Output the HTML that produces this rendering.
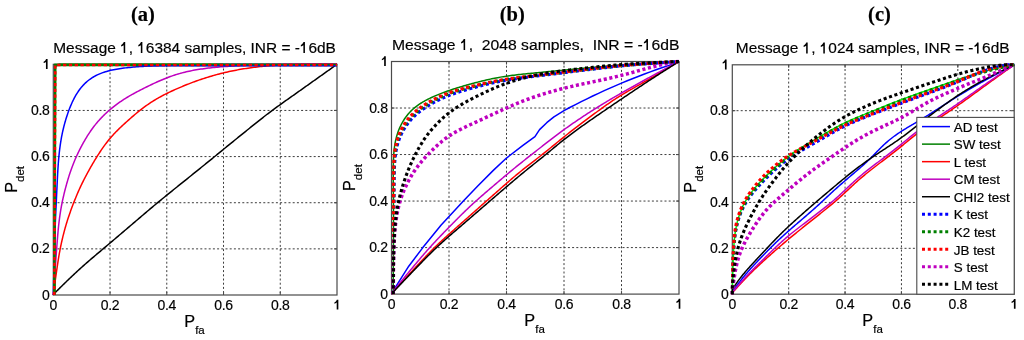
<!DOCTYPE html>
<html><head><meta charset="utf-8"><style>
html,body{margin:0;padding:0;background:#fff;}
body{width:1024px;height:340px;overflow:hidden;font-family:"Liberation Sans",sans-serif;}
svg{display:block;will-change:transform;}
text{stroke:#000;stroke-width:0.18px;}
.tk{font-size:14px;letter-spacing:-0.35px;}
.lg{font-size:13.4px;}
.h1{fill:transparent;stroke:none;}
</style></head><body>
<svg width="1024" height="340" viewBox="0 0 1024 340" font-family="Liberation Sans, sans-serif" font-size="13" fill="#000">
<defs><clipPath id="clipa"><rect x="51.30" y="62.30" width="287.70" height="234.70"/></clipPath><clipPath id="clipb"><rect x="389.50" y="59.50" width="291.50" height="236.60"/></clipPath><clipPath id="clipc"><rect x="730.30" y="62.80" width="285.90" height="233.40"/></clipPath></defs>
<line x1="110.04" y1="64.30" x2="110.04" y2="295.00" stroke="#3c3c3c" stroke-width="1" stroke-dasharray="2 2.2"/>
<line x1="53.30" y1="248.86" x2="337.00" y2="248.86" stroke="#3c3c3c" stroke-width="1" stroke-dasharray="2 2.2"/>
<line x1="166.78" y1="64.30" x2="166.78" y2="295.00" stroke="#3c3c3c" stroke-width="1" stroke-dasharray="2 2.2"/>
<line x1="53.30" y1="202.72" x2="337.00" y2="202.72" stroke="#3c3c3c" stroke-width="1" stroke-dasharray="2 2.2"/>
<line x1="223.52" y1="64.30" x2="223.52" y2="295.00" stroke="#3c3c3c" stroke-width="1" stroke-dasharray="2 2.2"/>
<line x1="53.30" y1="156.58" x2="337.00" y2="156.58" stroke="#3c3c3c" stroke-width="1" stroke-dasharray="2 2.2"/>
<line x1="280.26" y1="64.30" x2="280.26" y2="295.00" stroke="#3c3c3c" stroke-width="1" stroke-dasharray="2 2.2"/>
<line x1="53.30" y1="110.44" x2="337.00" y2="110.44" stroke="#3c3c3c" stroke-width="1" stroke-dasharray="2 2.2"/>
<rect x="53.30" y="64.30" width="283.70" height="230.70" fill="none" stroke="#4a4a4a" stroke-width="1.2"/>
<line x1="110.04" y1="295.00" x2="110.04" y2="292.00" stroke="#4a4a4a" stroke-width="1.1"/>
<line x1="110.04" y1="64.30" x2="110.04" y2="67.30" stroke="#4a4a4a" stroke-width="1.1"/>
<line x1="53.30" y1="248.86" x2="56.30" y2="248.86" stroke="#4a4a4a" stroke-width="1.1"/>
<line x1="337.00" y1="248.86" x2="334.00" y2="248.86" stroke="#4a4a4a" stroke-width="1.1"/>
<line x1="166.78" y1="295.00" x2="166.78" y2="292.00" stroke="#4a4a4a" stroke-width="1.1"/>
<line x1="166.78" y1="64.30" x2="166.78" y2="67.30" stroke="#4a4a4a" stroke-width="1.1"/>
<line x1="53.30" y1="202.72" x2="56.30" y2="202.72" stroke="#4a4a4a" stroke-width="1.1"/>
<line x1="337.00" y1="202.72" x2="334.00" y2="202.72" stroke="#4a4a4a" stroke-width="1.1"/>
<line x1="223.52" y1="295.00" x2="223.52" y2="292.00" stroke="#4a4a4a" stroke-width="1.1"/>
<line x1="223.52" y1="64.30" x2="223.52" y2="67.30" stroke="#4a4a4a" stroke-width="1.1"/>
<line x1="53.30" y1="156.58" x2="56.30" y2="156.58" stroke="#4a4a4a" stroke-width="1.1"/>
<line x1="337.00" y1="156.58" x2="334.00" y2="156.58" stroke="#4a4a4a" stroke-width="1.1"/>
<line x1="280.26" y1="295.00" x2="280.26" y2="292.00" stroke="#4a4a4a" stroke-width="1.1"/>
<line x1="280.26" y1="64.30" x2="280.26" y2="67.30" stroke="#4a4a4a" stroke-width="1.1"/>
<line x1="53.30" y1="110.44" x2="56.30" y2="110.44" stroke="#4a4a4a" stroke-width="1.1"/>
<line x1="337.00" y1="110.44" x2="334.00" y2="110.44" stroke="#4a4a4a" stroke-width="1.1"/>
<g clip-path="url(#clipa)"><polyline points="55.00,295.00 55.00,66.61 58.97,64.30 337.00,64.30" fill="none" stroke="#008000" stroke-width="1.5" stroke-linejoin="round"/>
<polyline points="53.30,295.00 53.34,293.32 53.38,291.64 53.42,289.96 53.46,288.28 53.50,286.60 53.54,284.92 53.58,283.24 53.62,281.56 53.66,279.88 53.70,278.20 53.74,276.52 53.79,274.84 53.83,273.16 53.87,271.48 53.91,269.80 53.95,268.12 53.99,266.45 54.04,264.77 54.08,263.09 54.12,261.41 54.16,259.74 54.21,258.06 54.25,256.38 54.30,254.71 54.34,253.03 54.39,251.36 54.43,249.68 54.48,248.01 54.53,246.34 54.58,244.67 54.63,243.00 54.68,241.33 54.73,239.66 54.78,237.99 54.84,236.32 54.89,234.66 54.95,233.00 55.01,231.34 55.07,229.68 55.13,228.02 55.20,226.36 55.26,224.71 55.33,223.05 55.40,221.40 55.47,219.75 55.54,218.10 55.61,216.45 55.69,214.81 55.76,213.16 55.84,211.52 55.92,209.88 55.99,208.23 56.07,206.59 56.15,204.95 56.23,203.31 56.31,201.66 56.38,200.02 56.46,198.38 56.54,196.73 56.61,195.09 56.69,193.44 56.76,191.80 56.84,190.16 56.92,188.51 56.99,186.87 57.07,185.22 57.15,183.58 57.23,181.94 57.30,180.30 57.39,178.66 57.47,177.02 57.56,175.39 57.64,173.76 57.74,172.13 57.83,170.50 57.93,168.88 58.04,167.27 58.15,165.66 58.26,164.05 58.38,162.45 58.51,160.86 58.64,159.27 58.78,157.69 58.93,156.12 59.09,154.55 59.25,153.00 59.43,151.45 59.61,149.91 59.80,148.38 60.00,146.86 60.20,145.35 60.42,143.85 60.65,142.35 60.89,140.87 61.14,139.40 61.39,137.94 61.66,136.48 61.94,135.04 62.23,133.61 62.53,132.19 62.84,130.78 63.17,129.39 63.50,128.00 63.84,126.62 64.19,125.25 64.56,123.89 64.93,122.55 65.31,121.21 65.70,119.88 66.10,118.56 66.51,117.25 66.93,115.95 67.36,114.65 67.80,113.37 68.25,112.10 68.70,110.84 69.17,109.58 69.65,108.34 70.14,107.11 70.64,105.89 71.15,104.68 71.68,103.49 72.21,102.30 72.76,101.13 73.32,99.97 73.90,98.83 74.49,97.70 75.10,96.59 75.72,95.49 76.36,94.41 77.02,93.35 77.69,92.30 78.38,91.27 79.09,90.26 79.82,89.27 80.57,88.30 81.34,87.35 82.13,86.42 82.94,85.51 83.78,84.62 84.63,83.75 85.51,82.91 86.41,82.09 87.33,81.29 88.28,80.52 89.25,79.77 90.24,79.04 91.26,78.34 92.30,77.66 93.37,77.01 94.46,76.38 95.58,75.77 96.72,75.20 97.88,74.64 99.07,74.11 100.29,73.60 101.52,73.12 102.78,72.66 104.07,72.22 105.37,71.81 106.70,71.41 108.05,71.04 109.41,70.69 110.80,70.35 112.20,70.04 113.63,69.74 115.07,69.46 116.52,69.19 117.99,68.94 119.47,68.70 120.97,68.48 122.48,68.27 124.00,68.07 125.53,67.88 127.07,67.70 128.63,67.53 130.19,67.38 131.76,67.23 133.34,67.09 134.93,66.95 136.52,66.83 138.12,66.71 139.73,66.60 141.35,66.49 142.96,66.39 144.59,66.29 146.22,66.20 147.85,66.11 149.49,66.03 151.13,65.95 152.77,65.87 154.42,65.80 156.07,65.73 157.72,65.66 159.38,65.60 161.04,65.54 162.70,65.48 164.36,65.43 166.03,65.37 167.70,65.32 169.38,65.28 171.06,65.24 172.74,65.19 174.42,65.16 176.10,65.12 177.79,65.09 179.48,65.05 181.17,65.02 182.86,65.00 184.55,64.97 186.25,64.94 187.94,64.92 189.64,64.90 191.34,64.87 193.04,64.85 194.74,64.83 196.44,64.81 198.14,64.79 199.84,64.77 201.55,64.76 203.25,64.74 204.95,64.72 206.66,64.71 208.36,64.69 210.06,64.67 211.77,64.66 213.48,64.64 215.18,64.63 216.89,64.62 218.60,64.60 220.31,64.59 222.01,64.58 223.72,64.57 225.43,64.56 227.14,64.55 228.86,64.54 230.57,64.53 232.28,64.52 233.99,64.52 235.71,64.51 237.42,64.50 239.14,64.50 240.85,64.49 242.57,64.49 244.28,64.48 246.00,64.48 247.71,64.47 249.43,64.47 251.15,64.47 252.86,64.46 254.58,64.46 256.30,64.46 258.01,64.45 259.73,64.45 261.45,64.45 263.17,64.44 264.88,64.44 266.60,64.44 268.32,64.43 270.04,64.43 271.75,64.43 273.47,64.43 275.19,64.42 276.90,64.42 278.62,64.42 280.34,64.41 282.06,64.41 283.77,64.41 285.49,64.40 287.21,64.40 288.93,64.40 290.64,64.39 292.36,64.39 294.08,64.39 295.79,64.38 297.51,64.38 299.23,64.38 300.94,64.37 302.66,64.37 304.38,64.37 306.10,64.36 307.81,64.36 309.53,64.36 311.25,64.35 312.96,64.35 314.68,64.35 316.40,64.34 318.11,64.34 319.83,64.34 321.55,64.33 323.27,64.33 324.98,64.32 326.70,64.32 328.42,64.32 330.13,64.31 331.85,64.31 333.57,64.31 335.28,64.30 337.00,64.30" fill="none" stroke="#0000ff" stroke-width="1.5" stroke-linejoin="round"/>
<polyline points="53.30,295.00 53.48,293.46 53.69,291.95 53.90,290.44 54.10,288.92 54.31,287.41 54.52,285.90 54.73,284.38 54.93,282.87 55.14,281.36 55.35,279.85 55.56,278.34 55.77,276.82 55.98,275.32 56.19,273.81 56.41,272.30 56.62,270.79 56.84,269.29 57.06,267.79 57.28,266.29 57.50,264.79 57.73,263.30 57.96,261.81 58.19,260.32 58.43,258.84 58.67,257.36 58.92,255.89 59.18,254.43 59.44,252.96 59.70,251.51 59.97,250.06 60.25,248.62 60.53,247.18 60.83,245.75 61.12,244.33 61.43,242.92 61.74,241.51 62.06,240.10 62.38,238.71 62.72,237.32 63.05,235.94 63.40,234.56 63.75,233.19 64.10,231.83 64.47,230.47 64.84,229.12 65.21,227.77 65.59,226.44 65.98,225.10 66.38,223.78 66.78,222.46 67.19,221.15 67.60,219.84 68.02,218.54 68.45,217.25 68.88,215.96 69.32,214.68 69.76,213.40 70.21,212.13 70.66,210.86 71.12,209.60 71.58,208.34 72.05,207.08 72.52,205.83 72.99,204.59 73.47,203.35 73.95,202.11 74.44,200.87 74.93,199.64 75.42,198.42 75.92,197.20 76.43,195.98 76.94,194.77 77.45,193.56 77.97,192.36 78.49,191.16 79.02,189.97 79.56,188.79 80.10,187.61 80.65,186.44 81.20,185.27 81.76,184.11 82.32,182.95 82.89,181.80 83.46,180.65 84.04,179.51 84.62,178.37 85.21,177.24 85.80,176.11 86.40,174.98 87.00,173.86 87.60,172.74 88.21,171.63 88.82,170.52 89.43,169.41 90.05,168.31 90.67,167.21 91.30,166.12 91.92,165.03 92.56,163.94 93.19,162.85 93.84,161.77 94.48,160.70 95.13,159.63 95.78,158.56 96.44,157.50 97.10,156.44 97.77,155.38 98.44,154.34 99.12,153.29 99.80,152.25 100.49,151.22 101.18,150.19 101.88,149.17 102.58,148.16 103.29,147.15 104.01,146.15 104.74,145.15 105.47,144.16 106.21,143.18 106.96,142.21 107.72,141.25 108.48,140.29 109.25,139.35 110.04,138.41 110.83,137.48 111.63,136.56 112.44,135.65 113.26,134.75 114.09,133.86 114.93,132.97 115.77,132.10 116.62,131.23 117.48,130.36 118.34,129.51 119.21,128.66 120.09,127.81 120.96,126.97 121.85,126.13 122.74,125.30 123.63,124.47 124.52,123.65 125.42,122.83 126.33,122.01 127.23,121.19 128.14,120.38 129.05,119.57 129.96,118.77 130.88,117.96 131.80,117.16 132.73,116.37 133.65,115.57 134.58,114.78 135.52,114.00 136.46,113.22 137.40,112.44 138.35,111.67 139.31,110.91 140.27,110.15 141.24,109.39 142.21,108.64 143.19,107.90 144.17,107.17 145.17,106.44 146.17,105.72 147.18,105.01 148.19,104.30 149.21,103.61 150.25,102.92 151.28,102.24 152.33,101.56 153.38,100.90 154.45,100.24 155.52,99.59 156.60,98.95 157.69,98.32 158.78,97.69 159.89,97.07 161.00,96.47 162.12,95.86 163.24,95.27 164.38,94.68 165.52,94.10 166.67,93.53 167.82,92.97 168.98,92.41 170.15,91.85 171.32,91.30 172.49,90.76 173.67,90.22 174.86,89.68 176.05,89.15 177.25,88.63 178.44,88.11 179.65,87.59 180.85,87.08 182.07,86.57 183.28,86.06 184.50,85.56 185.72,85.06 186.95,84.57 188.18,84.08 189.42,83.60 190.66,83.12 191.90,82.64 193.15,82.17 194.41,81.71 195.67,81.25 196.94,80.80 198.21,80.35 199.49,79.91 200.77,79.47 202.06,79.04 203.36,78.61 204.66,78.19 205.96,77.78 207.27,77.37 208.59,76.96 209.91,76.56 211.24,76.17 212.57,75.78 213.91,75.40 215.25,75.02 216.60,74.65 217.95,74.28 219.32,73.93 220.68,73.57 222.06,73.23 223.44,72.89 224.83,72.56 226.22,72.23 227.62,71.91 229.03,71.60 230.45,71.30 231.87,71.00 233.30,70.71 234.74,70.42 236.18,70.14 237.63,69.87 239.08,69.61 240.55,69.35 242.02,69.10 243.49,68.86 244.98,68.62 246.47,68.39 247.96,68.17 249.47,67.95 250.98,67.74 252.50,67.54 254.02,67.34 255.55,67.15 257.09,66.97 258.63,66.79 260.18,66.62 261.74,66.45 263.30,66.30 264.87,66.14 266.44,66.00 268.02,65.86 269.61,65.72 271.20,65.60 272.80,65.48 274.41,65.36 276.02,65.25 277.64,65.15 279.26,65.06 280.89,64.97 282.53,64.88 284.17,64.80 285.82,64.73 287.48,64.67 289.14,64.61 290.80,64.55 292.47,64.50 294.15,64.46 295.83,64.42 297.51,64.38 299.20,64.35 300.90,64.33 302.60,64.30 304.30,64.30 306.00,64.30 307.71,64.30 309.42,64.30 311.13,64.30 312.85,64.30 314.56,64.30 316.28,64.30 318.00,64.30 319.72,64.30 321.44,64.30 323.16,64.30 324.88,64.30 326.61,64.30 328.33,64.30 330.05,64.30 331.78,64.30 333.50,64.30 335.22,64.30 337.00,64.30" fill="none" stroke="#ff0000" stroke-width="1.5" stroke-linejoin="round"/>
<polyline points="53.30,295.00 53.43,293.41 53.54,291.80 53.66,290.20 53.78,288.60 53.90,286.99 54.01,285.39 54.13,283.79 54.25,282.18 54.36,280.58 54.48,278.98 54.60,277.37 54.71,275.77 54.83,274.16 54.95,272.56 55.06,270.96 55.18,269.35 55.29,267.75 55.41,266.14 55.53,264.54 55.64,262.93 55.76,261.33 55.87,259.72 55.99,258.12 56.10,256.51 56.22,254.91 56.33,253.30 56.45,251.70 56.57,250.10 56.69,248.49 56.80,246.89 56.92,245.29 57.05,243.69 57.17,242.10 57.29,240.50 57.42,238.91 57.55,237.32 57.68,235.73 57.82,234.14 57.96,232.56 58.10,230.99 58.25,229.42 58.41,227.85 58.57,226.29 58.73,224.74 58.91,223.19 59.09,221.65 59.28,220.12 59.47,218.59 59.67,217.07 59.89,215.57 60.10,214.06 60.33,212.57 60.57,211.09 60.81,209.61 61.07,208.15 61.33,206.69 61.60,205.24 61.88,203.80 62.17,202.36 62.46,200.94 62.76,199.52 63.07,198.11 63.39,196.71 63.72,195.31 64.05,193.92 64.38,192.54 64.73,191.16 65.08,189.79 65.43,188.42 65.79,187.07 66.16,185.71 66.53,184.36 66.91,183.02 67.29,181.69 67.68,180.35 68.08,179.03 68.48,177.71 68.89,176.40 69.31,175.09 69.73,173.80 70.16,172.51 70.60,171.22 71.04,169.95 71.49,168.68 71.95,167.42 72.42,166.17 72.90,164.92 73.38,163.69 73.88,162.46 74.38,161.24 74.88,160.03 75.40,158.82 75.92,157.63 76.46,156.44 76.99,155.26 77.54,154.08 78.09,152.91 78.65,151.75 79.22,150.60 79.80,149.46 80.38,148.32 80.96,147.18 81.56,146.06 82.16,144.94 82.77,143.83 83.38,142.72 84.01,141.62 84.63,140.53 85.27,139.45 85.91,138.37 86.56,137.30 87.22,136.23 87.88,135.18 88.56,134.13 89.24,133.09 89.92,132.06 90.62,131.03 91.33,130.02 92.04,129.02 92.77,128.02 93.50,127.03 94.25,126.06 95.00,125.10 95.77,124.14 96.55,123.20 97.33,122.26 98.13,121.34 98.94,120.43 99.76,119.52 100.58,118.63 101.42,117.75 102.26,116.87 103.12,116.01 103.98,115.15 104.86,114.30 105.74,113.46 106.63,112.63 107.53,111.81 108.44,111.00 109.36,110.20 110.28,109.41 111.22,108.62 112.16,107.85 113.12,107.08 114.08,106.32 115.05,105.58 116.03,104.83 117.02,104.10 118.02,103.38 119.03,102.67 120.04,101.96 121.06,101.26 122.09,100.57 123.13,99.89 124.18,99.22 125.23,98.55 126.29,97.89 127.36,97.24 128.44,96.60 129.53,95.96 130.62,95.33 131.72,94.71 132.82,94.10 133.93,93.48 135.04,92.88 136.16,92.28 137.29,91.68 138.42,91.09 139.55,90.50 140.68,89.91 141.82,89.33 142.96,88.75 144.11,88.18 145.25,87.60 146.40,87.03 147.56,86.47 148.71,85.90 149.87,85.34 151.04,84.78 152.20,84.23 153.37,83.68 154.54,83.13 155.72,82.59 156.91,82.05 158.09,81.52 159.29,80.99 160.48,80.47 161.69,79.95 162.90,79.44 164.12,78.94 165.34,78.45 166.58,77.96 167.82,77.48 169.07,77.01 170.33,76.55 171.60,76.10 172.88,75.66 174.17,75.23 175.47,74.81 176.78,74.40 178.10,74.00 179.44,73.62 180.78,73.24 182.13,72.87 183.50,72.52 184.88,72.17 186.26,71.84 187.66,71.52 189.07,71.21 190.49,70.91 191.92,70.62 193.37,70.34 194.82,70.07 196.28,69.82 197.76,69.57 199.24,69.33 200.73,69.11 202.24,68.89 203.75,68.68 205.27,68.48 206.80,68.29 208.33,68.10 209.88,67.93 211.43,67.76 212.98,67.59 214.55,67.44 216.12,67.29 217.69,67.14 219.27,67.00 220.86,66.87 222.45,66.74 224.05,66.61 225.65,66.49 227.25,66.38 228.86,66.27 230.48,66.16 232.10,66.06 233.72,65.96 235.35,65.87 236.97,65.78 238.61,65.69 240.24,65.61 241.88,65.53 243.53,65.45 245.17,65.37 246.82,65.30 248.47,65.23 250.13,65.17 251.79,65.11 253.45,65.05 255.11,64.99 256.77,64.93 258.44,64.88 260.11,64.83 261.78,64.78 263.46,64.74 265.14,64.69 266.81,64.65 268.50,64.61 270.18,64.58 271.87,64.54 273.55,64.51 275.24,64.48 276.94,64.45 278.63,64.43 280.33,64.40 282.03,64.38 283.73,64.36 285.44,64.35 287.14,64.33 288.85,64.32 290.56,64.31 292.27,64.30 293.98,64.30 295.70,64.30 297.41,64.30 299.13,64.30 300.85,64.30 302.56,64.30 304.28,64.30 306.00,64.30 307.72,64.30 309.44,64.30 311.16,64.30 312.89,64.30 314.61,64.30 316.33,64.30 318.05,64.30 319.77,64.30 321.50,64.30 323.22,64.30 324.94,64.30 326.66,64.30 328.39,64.30 330.11,64.30 331.83,64.30 333.55,64.30 335.28,64.30 337.00,64.30" fill="none" stroke="#bf00bf" stroke-width="1.5" stroke-linejoin="round"/>
<polyline points="53.30,295.00 53.89,293.87 54.75,293.01 55.62,292.15 56.48,291.30 57.34,290.44 58.21,289.59 59.08,288.73 59.94,287.88 60.81,287.03 61.68,286.17 62.55,285.32 63.42,284.47 64.29,283.62 65.16,282.78 66.03,281.93 66.91,281.08 67.79,280.24 68.66,279.40 69.54,278.56 70.42,277.72 71.31,276.88 72.19,276.04 73.07,275.21 73.96,274.37 74.85,273.54 75.74,272.71 76.63,271.88 77.53,271.06 78.42,270.23 79.32,269.41 80.22,268.59 81.13,267.77 82.03,266.96 82.94,266.15 83.85,265.34 84.76,264.53 85.68,263.72 86.60,262.92 87.51,262.12 88.44,261.32 89.36,260.52 90.28,259.73 91.21,258.93 92.14,258.14 93.07,257.35 94.00,256.56 94.93,255.77 95.86,254.98 96.79,254.19 97.73,253.41 98.66,252.62 99.59,251.83 100.53,251.05 101.46,250.26 102.40,249.47 103.33,248.69 104.26,247.90 105.20,247.12 106.13,246.33 107.07,245.54 108.00,244.75 108.93,243.97 109.86,243.18 110.80,242.39 111.73,241.60 112.66,240.81 113.59,240.02 114.52,239.24 115.45,238.45 116.38,237.66 117.31,236.87 118.24,236.08 119.17,235.29 120.10,234.49 121.03,233.70 121.96,232.91 122.89,232.12 123.82,231.33 124.75,230.54 125.68,229.75 126.61,228.95 127.54,228.16 128.46,227.37 129.39,226.58 130.32,225.79 131.25,224.99 132.18,224.20 133.11,223.41 134.03,222.62 134.96,221.83 135.89,221.03 136.82,220.24 137.75,219.45 138.68,218.66 139.60,217.87 140.53,217.07 141.46,216.28 142.39,215.49 143.32,214.70 144.25,213.91 145.18,213.12 146.11,212.33 147.04,211.54 147.97,210.75 148.91,209.96 149.84,209.18 150.77,208.39 151.71,207.60 152.64,206.82 153.58,206.04 154.52,205.25 155.46,204.47 156.40,203.69 157.34,202.91 158.28,202.13 159.22,201.35 160.16,200.58 161.11,199.80 162.05,199.03 163.00,198.25 163.95,197.48 164.90,196.71 165.84,195.93 166.79,195.16 167.74,194.39 168.69,193.62 169.65,192.86 170.60,192.09 171.55,191.32 172.50,190.55 173.46,189.78 174.41,189.02 175.36,188.25 176.32,187.48 177.27,186.72 178.22,185.95 179.18,185.18 180.13,184.42 181.09,183.65 182.04,182.88 182.99,182.12 183.95,181.35 184.90,180.58 185.86,179.82 186.81,179.05 187.76,178.29 188.72,177.52 189.67,176.75 190.63,175.99 191.58,175.22 192.53,174.45 193.49,173.69 194.44,172.92 195.39,172.15 196.35,171.38 197.30,170.62 198.25,169.85 199.20,169.08 200.16,168.31 201.11,167.54 202.06,166.78 203.01,166.01 203.96,165.24 204.91,164.47 205.86,163.70 206.82,162.93 207.76,162.16 208.71,161.39 209.66,160.62 210.61,159.84 211.56,159.07 212.51,158.30 213.46,157.53 214.40,156.75 215.35,155.98 216.30,155.21 217.24,154.43 218.19,153.66 219.14,152.88 220.08,152.11 221.03,151.33 221.97,150.56 222.92,149.79 223.87,149.01 224.81,148.24 225.76,147.47 226.71,146.70 227.66,145.92 228.61,145.15 229.56,144.38 230.51,143.61 231.46,142.84 232.41,142.07 233.36,141.30 234.31,140.53 235.26,139.76 236.21,138.99 237.16,138.22 238.11,137.45 239.06,136.68 240.01,135.91 240.97,135.15 241.92,134.38 242.87,133.61 243.82,132.84 244.77,132.07 245.73,131.30 246.68,130.53 247.63,129.77 248.58,129.00 249.53,128.23 250.49,127.46 251.44,126.69 252.39,125.93 253.35,125.16 254.30,124.39 255.26,123.63 256.21,122.86 257.17,122.10 258.12,121.34 259.08,120.57 260.04,119.81 261.00,119.05 261.97,118.30 262.93,117.54 263.89,116.78 264.86,116.03 265.83,115.28 266.80,114.53 267.78,113.78 268.75,113.04 269.73,112.30 270.71,111.56 271.70,110.82 272.69,110.09 273.67,109.36 274.67,108.63 275.66,107.90 276.66,107.18 277.65,106.46 278.65,105.74 279.66,105.02 280.66,104.30 281.66,103.58 282.67,102.87 283.67,102.15 284.68,101.44 285.69,100.73 286.69,100.01 287.70,99.30 288.71,98.59 289.72,97.88 290.73,97.16 291.73,96.45 292.74,95.74 293.75,95.03 294.76,94.31 295.77,93.60 296.77,92.89 297.78,92.18 298.79,91.46 299.80,90.75 300.80,90.04 301.81,89.32 302.82,88.61 303.82,87.90 304.83,87.18 305.84,86.47 306.84,85.75 307.85,85.04 308.85,84.33 309.86,83.61 310.87,82.90 311.87,82.18 312.88,81.47 313.88,80.75 314.89,80.04 315.89,79.32 316.90,78.61 317.90,77.89 318.91,77.18 319.91,76.46 320.92,75.75 321.92,75.03 322.93,74.32 323.93,73.60 324.94,72.88 325.94,72.17 326.95,71.45 327.95,70.74 328.96,70.02 329.96,69.31 330.97,68.59 331.97,67.88 332.98,67.16 333.98,66.45 334.99,65.73 335.99,65.02 337.00,64.30" fill="none" stroke="#000000" stroke-width="1.5" stroke-linejoin="round"/>
<polyline points="54.29,295.00 55.29,64.99 337.00,64.99" fill="none" stroke="#008000" stroke-width="2.5"/>
<polyline points="138.41,65.91 337.00,65.91" fill="none" stroke="#0000ff" stroke-width="1.2"/>
<polyline points="54.43,64.30 223.52,64.30" fill="none" stroke="#008000" stroke-width="1.2"/>
<polyline points="54.29,295.00 55.29,64.99 337.00,64.99" fill="none" stroke="#ff0000" stroke-width="2.5" stroke-dasharray="3.3 2.5"/></g>
<text x="53.30" y="309.60" text-anchor="middle" class="tk">0</text>
<text x="49.40" y="299.60" text-anchor="end" class="tk">0</text>
<text x="110.04" y="309.60" text-anchor="middle" class="tk">0.2</text>
<text x="49.40" y="253.46" text-anchor="end" class="tk">0.2</text>
<text x="166.78" y="309.60" text-anchor="middle" class="tk">0.4</text>
<text x="49.40" y="207.32" text-anchor="end" class="tk">0.4</text>
<text x="223.52" y="309.60" text-anchor="middle" class="tk">0.6</text>
<text x="49.40" y="161.18" text-anchor="end" class="tk">0.6</text>
<text x="280.26" y="309.60" text-anchor="middle" class="tk">0.8</text>
<text x="49.40" y="115.04" text-anchor="end" class="tk">0.8</text>
<path d="M336.70,299.70 L338.35,299.70 L338.35,309.60 L336.70,309.60 L336.70,302.60 C336.00,303.20 335.20,303.60 334.40,303.80 L334.40,302.40 C335.50,302.00 336.30,301.00 336.80,299.70 Z" fill="#000"/>
<path d="M45.95,59.00 L47.60,59.00 L47.60,68.90 L45.95,68.90 L45.95,61.90 C45.25,62.50 44.45,62.90 43.65,63.10 L43.65,61.70 C44.75,61.30 45.55,60.30 46.05,59.00 Z" fill="#000"/>
<text x="184.25" y="326.80" font-size="16.3">P<tspan font-size="11.5" dy="7">fa</tspan></text>
<text transform="translate(17.00,192.85) rotate(-90)" font-size="16.3">P<tspan font-size="11.5" dy="7">det</tspan></text>
<text id="titlea" x="53.20" y="52.90" font-size="15.4" textLength="282.70" lengthAdjust="spacingAndGlyphs" xml:space="preserve">Message <tspan class="h1">1</tspan>, <tspan class="h1">1</tspan>6384 samples, INR = -<tspan class="h1">1</tspan>6dB</text>
<path d="M123.67,42.01 L125.21,42.01 L125.21,52.90 L123.67,52.90 L123.67,45.20 C122.90,45.86 122.02,46.30 121.14,46.52 L121.14,44.98 C122.35,44.54 123.23,43.44 123.77,42.01 Z" fill="#000"/>
<path d="M140.84,42.01 L142.38,42.01 L142.38,52.90 L140.84,52.90 L140.84,45.20 C140.07,45.86 139.19,46.30 138.31,46.52 L138.31,44.98 C139.52,44.54 140.40,43.44 140.94,42.01 Z" fill="#000"/>
<path d="M303.39,42.01 L304.93,42.01 L304.93,52.90 L303.39,52.90 L303.39,45.20 C302.62,45.86 301.74,46.30 300.86,46.52 L300.86,44.98 C302.07,44.54 302.95,43.44 303.49,42.01 Z" fill="#000"/>
<text x="131.00" y="20.90" font-family="Liberation Serif, serif" font-weight="bold" font-size="20.5">(a)</text>
<line x1="449.00" y1="61.50" x2="449.00" y2="294.10" stroke="#3c3c3c" stroke-width="1" stroke-dasharray="2 2.2"/>
<line x1="391.50" y1="247.58" x2="679.00" y2="247.58" stroke="#3c3c3c" stroke-width="1" stroke-dasharray="2 2.2"/>
<line x1="506.50" y1="61.50" x2="506.50" y2="294.10" stroke="#3c3c3c" stroke-width="1" stroke-dasharray="2 2.2"/>
<line x1="391.50" y1="201.06" x2="679.00" y2="201.06" stroke="#3c3c3c" stroke-width="1" stroke-dasharray="2 2.2"/>
<line x1="564.00" y1="61.50" x2="564.00" y2="294.10" stroke="#3c3c3c" stroke-width="1" stroke-dasharray="2 2.2"/>
<line x1="391.50" y1="154.54" x2="679.00" y2="154.54" stroke="#3c3c3c" stroke-width="1" stroke-dasharray="2 2.2"/>
<line x1="621.50" y1="61.50" x2="621.50" y2="294.10" stroke="#3c3c3c" stroke-width="1" stroke-dasharray="2 2.2"/>
<line x1="391.50" y1="108.02" x2="679.00" y2="108.02" stroke="#3c3c3c" stroke-width="1" stroke-dasharray="2 2.2"/>
<rect x="391.50" y="61.50" width="287.50" height="232.60" fill="none" stroke="#4a4a4a" stroke-width="1.2"/>
<line x1="449.00" y1="294.10" x2="449.00" y2="291.10" stroke="#4a4a4a" stroke-width="1.1"/>
<line x1="449.00" y1="61.50" x2="449.00" y2="64.50" stroke="#4a4a4a" stroke-width="1.1"/>
<line x1="391.50" y1="247.58" x2="394.50" y2="247.58" stroke="#4a4a4a" stroke-width="1.1"/>
<line x1="679.00" y1="247.58" x2="676.00" y2="247.58" stroke="#4a4a4a" stroke-width="1.1"/>
<line x1="506.50" y1="294.10" x2="506.50" y2="291.10" stroke="#4a4a4a" stroke-width="1.1"/>
<line x1="506.50" y1="61.50" x2="506.50" y2="64.50" stroke="#4a4a4a" stroke-width="1.1"/>
<line x1="391.50" y1="201.06" x2="394.50" y2="201.06" stroke="#4a4a4a" stroke-width="1.1"/>
<line x1="679.00" y1="201.06" x2="676.00" y2="201.06" stroke="#4a4a4a" stroke-width="1.1"/>
<line x1="564.00" y1="294.10" x2="564.00" y2="291.10" stroke="#4a4a4a" stroke-width="1.1"/>
<line x1="564.00" y1="61.50" x2="564.00" y2="64.50" stroke="#4a4a4a" stroke-width="1.1"/>
<line x1="391.50" y1="154.54" x2="394.50" y2="154.54" stroke="#4a4a4a" stroke-width="1.1"/>
<line x1="679.00" y1="154.54" x2="676.00" y2="154.54" stroke="#4a4a4a" stroke-width="1.1"/>
<line x1="621.50" y1="294.10" x2="621.50" y2="291.10" stroke="#4a4a4a" stroke-width="1.1"/>
<line x1="621.50" y1="61.50" x2="621.50" y2="64.50" stroke="#4a4a4a" stroke-width="1.1"/>
<line x1="391.50" y1="108.02" x2="394.50" y2="108.02" stroke="#4a4a4a" stroke-width="1.1"/>
<line x1="679.00" y1="108.02" x2="676.00" y2="108.02" stroke="#4a4a4a" stroke-width="1.1"/>
<g clip-path="url(#clipb)"><polyline points="391.50,294.10 393.23,290.84 397.25,284.33 408.75,266.19 422.84,247.58 440.95,225.25 463.38,201.06 477.75,185.94 493.56,170.12 506.50,158.03 522.60,145.70 534.96,136.63 539.56,129.65 546.75,122.67 553.94,116.86 564.00,110.58 569.75,107.53 575.50,104.58 581.25,101.67 587.00,98.81 592.75,96.04 598.50,93.32 604.25,90.69 610.00,88.11 615.75,85.57 621.50,83.13 627.25,80.74 633.00,78.43 638.75,76.18 644.50,73.97 650.25,71.85 656.00,69.78 661.75,67.80 667.50,65.87 673.25,63.99 679.00,61.50" fill="none" stroke="#0000ff" stroke-width="1.5" stroke-linejoin="round"/>
<polyline points="393.23,294.10 393.23,292.37 393.24,290.64 393.24,288.92 393.25,287.19 393.26,285.47 393.27,283.74 393.28,282.01 393.28,280.29 393.29,278.56 393.30,276.84 393.31,275.11 393.31,273.38 393.32,271.66 393.33,269.93 393.34,268.21 393.34,266.48 393.35,264.75 393.36,263.03 393.37,261.30 393.38,259.58 393.38,257.85 393.39,256.12 393.40,254.40 393.41,252.67 393.41,250.95 393.42,249.22 393.43,247.49 393.44,245.77 393.44,244.04 393.45,242.31 393.46,240.59 393.46,238.86 393.47,237.13 393.48,235.41 393.48,233.68 393.49,231.95 393.49,230.22 393.49,228.49 393.50,226.76 393.50,225.03 393.50,223.30 393.50,221.56 393.50,219.83 393.50,218.09 393.50,216.36 393.50,214.62 393.49,212.89 393.49,211.15 393.48,209.41 393.48,207.67 393.47,205.92 393.46,204.18 393.45,202.44 393.44,200.69 393.43,198.95 393.41,197.20 393.40,195.45 393.38,193.70 393.37,191.95 393.35,190.20 393.34,188.45 393.32,186.70 393.30,184.95 393.29,183.21 393.27,181.46 393.26,179.71 393.25,177.97 393.24,176.22 393.23,174.48 393.23,172.75 393.24,171.02 393.25,169.29 393.26,167.58 393.28,165.87 393.32,164.16 393.36,162.47 393.41,160.79 393.48,159.12 393.55,157.47 393.65,155.83 393.76,154.20 393.88,152.59 394.03,151.01 394.19,149.44 394.38,147.89 394.58,146.36 394.81,144.85 395.06,143.37 395.33,141.91 395.63,140.47 395.95,139.06 396.30,137.67 396.67,136.31 397.06,134.97 397.47,133.65 397.91,132.35 398.37,131.08 398.85,129.83 399.36,128.60 399.88,127.39 400.43,126.20 401.00,125.03 401.58,123.89 402.19,122.76 402.82,121.66 403.47,120.57 404.14,119.51 404.83,118.47 405.54,117.44 406.27,116.44 407.03,115.46 407.80,114.50 408.60,113.56 409.41,112.65 410.25,111.75 411.11,110.88 412.00,110.03 412.90,109.20 413.82,108.39 414.76,107.60 415.73,106.83 416.71,106.08 417.71,105.34 418.73,104.63 419.77,103.93 420.82,103.25 421.89,102.59 422.98,101.94 424.08,101.31 425.19,100.69 426.32,100.08 427.46,99.48 428.61,98.90 429.77,98.33 430.94,97.77 432.13,97.22 433.32,96.68 434.52,96.15 435.73,95.62 436.95,95.11 438.18,94.61 439.42,94.11 440.66,93.62 441.91,93.13 443.17,92.66 444.43,92.19 445.70,91.72 446.98,91.27 448.26,90.82 449.55,90.37 450.85,89.94 452.15,89.50 453.46,89.08 454.77,88.66 456.09,88.24 457.41,87.83 458.74,87.42 460.07,87.02 461.41,86.62 462.75,86.23 464.09,85.84 465.44,85.45 466.79,85.07 468.14,84.69 469.50,84.31 470.86,83.94 472.22,83.57 473.59,83.21 474.96,82.84 476.34,82.48 477.71,82.13 479.09,81.77 480.48,81.42 481.87,81.08 483.26,80.74 484.66,80.40 486.06,80.07 487.47,79.75 488.88,79.43 490.31,79.12 491.73,78.81 493.17,78.51 494.61,78.22 496.06,77.93 497.52,77.66 498.98,77.39 500.46,77.13 501.94,76.88 503.43,76.64 504.93,76.41 506.44,76.18 507.96,75.96 509.48,75.75 511.01,75.55 512.55,75.35 514.09,75.16 515.64,74.97 517.19,74.79 518.75,74.62 520.31,74.44 521.87,74.27 523.44,74.11 525.01,73.94 526.58,73.78 528.15,73.62 529.73,73.46 531.30,73.30 532.88,73.15 534.46,72.99 536.04,72.84 537.62,72.69 539.20,72.53 540.78,72.38 542.36,72.23 543.94,72.07 545.52,71.92 547.10,71.77 548.69,71.62 550.27,71.46 551.85,71.31 553.43,71.16 555.01,71.00 556.59,70.85 558.17,70.70 559.75,70.54 561.33,70.39 562.91,70.24 564.49,70.09 566.08,69.93 567.66,69.78 569.24,69.63 570.82,69.48 572.40,69.33 573.99,69.18 575.57,69.02 577.15,68.87 578.73,68.72 580.32,68.57 581.90,68.42 583.48,68.27 585.07,68.12 586.65,67.97 588.24,67.82 589.82,67.67 591.41,67.52 592.99,67.38 594.58,67.23 596.16,67.08 597.75,66.93 599.34,66.79 600.92,66.64 602.51,66.50 604.10,66.35 605.69,66.21 607.29,66.07 608.88,65.93 610.47,65.79 612.07,65.65 613.67,65.51 615.26,65.38 616.87,65.25 618.47,65.12 620.07,64.99 621.68,64.86 623.29,64.73 624.90,64.61 626.51,64.49 628.13,64.37 629.74,64.26 631.36,64.14 632.98,64.03 634.61,63.92 636.23,63.81 637.86,63.70 639.49,63.59 641.11,63.49 642.75,63.39 644.38,63.29 646.01,63.19 647.65,63.09 649.28,62.99 650.92,62.89 652.56,62.80 654.20,62.71 655.84,62.62 657.49,62.52 659.13,62.43 660.78,62.35 662.42,62.26 664.07,62.17 665.72,62.09 667.36,62.00 669.01,61.92 670.66,61.83 672.31,61.75 673.96,61.66 675.61,61.58 677.26,61.50 679.00,61.50" fill="none" stroke="#008000" stroke-width="1.5" stroke-linejoin="round"/>
<polyline points="391.50,294.10 392.16,293.02 392.98,292.10 393.80,291.19 394.63,290.27 395.45,289.35 396.27,288.44 397.10,287.52 397.92,286.60 398.74,285.69 399.57,284.78 400.40,283.86 401.22,282.95 402.05,282.04 402.88,281.13 403.71,280.22 404.54,279.31 405.37,278.40 406.20,277.49 407.03,276.58 407.87,275.68 408.70,274.77 409.53,273.87 410.37,272.96 411.20,272.05 412.04,271.15 412.87,270.24 413.71,269.34 414.54,268.44 415.38,267.53 416.21,266.63 417.05,265.73 417.89,264.83 418.73,263.92 419.57,263.02 420.41,262.12 421.25,261.23 422.09,260.33 422.93,259.43 423.78,258.54 424.62,257.64 425.47,256.75 426.32,255.86 427.17,254.98 428.03,254.09 428.89,253.21 429.75,252.33 430.61,251.45 431.48,250.58 432.35,249.71 433.22,248.85 434.10,247.98 434.98,247.13 435.86,246.27 436.75,245.42 437.64,244.57 438.54,243.73 439.44,242.89 440.34,242.05 441.24,241.21 442.15,240.38 443.06,239.55 443.97,238.72 444.88,237.89 445.80,237.07 446.71,236.25 447.63,235.42 448.55,234.60 449.47,233.78 450.39,232.97 451.31,232.15 452.23,231.33 453.15,230.51 454.08,229.70 455.00,228.88 455.92,228.06 456.85,227.25 457.77,226.43 458.69,225.61 459.62,224.80 460.54,223.98 461.46,223.17 462.39,222.35 463.31,221.53 464.23,220.72 465.15,219.90 466.08,219.08 467.00,218.27 467.92,217.45 468.84,216.63 469.77,215.81 470.69,215.00 471.61,214.18 472.53,213.36 473.45,212.54 474.37,211.73 475.30,210.91 476.22,210.09 477.14,209.27 478.06,208.45 478.98,207.64 479.91,206.82 480.83,206.00 481.75,205.18 482.67,204.37 483.59,203.55 484.52,202.73 485.44,201.92 486.36,201.10 487.29,200.28 488.21,199.47 489.13,198.65 490.06,197.84 490.98,197.02 491.90,196.21 492.83,195.39 493.75,194.57 494.68,193.76 495.60,192.94 496.53,192.13 497.45,191.32 498.38,190.50 499.30,189.69 500.23,188.87 501.15,188.06 502.08,187.25 503.01,186.43 503.93,185.62 504.86,184.81 505.79,184.00 506.72,183.19 507.65,182.38 508.58,181.57 509.51,180.77 510.45,179.96 511.38,179.16 512.32,178.35 513.26,177.55 514.20,176.76 515.14,175.96 516.09,175.16 517.04,174.37 517.99,173.58 518.94,172.80 519.90,172.02 520.86,171.24 521.82,170.46 522.78,169.68 523.75,168.91 524.72,168.14 525.70,167.38 526.67,166.61 527.65,165.85 528.63,165.09 529.61,164.33 530.59,163.57 531.57,162.81 532.55,162.06 533.54,161.30 534.52,160.54 535.50,159.79 536.48,159.03 537.47,158.27 538.45,157.51 539.42,156.75 540.40,155.99 541.38,155.23 542.35,154.46 543.32,153.69 544.29,152.92 545.26,152.15 546.22,151.37 547.19,150.60 548.15,149.82 549.11,149.04 550.07,148.26 551.03,147.48 551.98,146.70 552.94,145.91 553.90,145.13 554.85,144.35 555.81,143.56 556.76,142.78 557.72,142.00 558.68,141.22 559.63,140.43 560.59,139.65 561.56,138.88 562.52,138.10 563.48,137.32 564.45,136.55 565.41,135.78 566.38,135.01 567.36,134.24 568.33,133.47 569.30,132.71 570.28,131.95 571.26,131.18 572.24,130.42 573.22,129.67 574.20,128.91 575.19,128.15 576.17,127.40 577.16,126.65 578.15,125.89 579.13,125.14 580.12,124.39 581.11,123.64 582.10,122.89 583.09,122.15 584.09,121.40 585.08,120.65 586.07,119.91 587.07,119.16 588.06,118.42 589.06,117.67 590.05,116.93 591.05,116.19 592.05,115.44 593.05,114.70 594.05,113.96 595.05,113.22 596.05,112.49 597.05,111.75 598.05,111.01 599.06,110.28 600.06,109.55 601.07,108.81 602.08,108.08 603.09,107.36 604.11,106.63 605.12,105.91 606.14,105.19 607.17,104.47 608.19,103.76 609.22,103.04 610.25,102.34 611.29,101.63 612.33,100.93 613.37,100.24 614.42,99.55 615.47,98.86 616.53,98.18 617.60,97.51 618.66,96.83 619.74,96.17 620.81,95.51 621.89,94.85 622.98,94.19 624.07,93.54 625.16,92.89 626.26,92.25 627.35,91.61 628.45,90.97 629.56,90.33 630.66,89.70 631.77,89.07 632.88,88.43 633.98,87.80 635.09,87.17 636.20,86.54 637.31,85.91 638.43,85.29 639.54,84.66 640.65,84.03 641.76,83.40 642.87,82.77 643.98,82.14 645.08,81.51 646.19,80.87 647.30,80.24 648.40,79.61 649.51,78.97 650.61,78.33 651.71,77.70 652.81,77.06 653.91,76.42 655.01,75.78 656.10,75.13 657.20,74.49 658.30,73.85 659.39,73.20 660.48,72.56 661.58,71.91 662.67,71.26 663.76,70.61 664.85,69.97 665.94,69.32 667.03,68.67 668.12,68.02 669.21,67.37 670.30,66.72 671.39,66.07 672.48,65.42 673.57,64.77 674.66,64.12 675.75,63.47 676.84,62.82 677.93,62.17 679.00,61.50" fill="none" stroke="#ff0000" stroke-width="1.5" stroke-linejoin="round"/>
<polyline points="391.50,294.10 392.03,292.90 392.80,291.92 393.57,290.95 394.34,289.98 395.11,289.01 395.88,288.04 396.65,287.07 397.42,286.10 398.19,285.14 398.96,284.17 399.74,283.21 400.52,282.24 401.29,281.28 402.07,280.32 402.85,279.36 403.63,278.40 404.42,277.44 405.20,276.49 405.98,275.53 406.77,274.58 407.56,273.63 408.34,272.68 409.13,271.72 409.92,270.77 410.71,269.82 411.50,268.87 412.29,267.93 413.08,266.98 413.88,266.03 414.67,265.08 415.46,264.14 416.26,263.19 417.05,262.25 417.85,261.31 418.64,260.36 419.44,259.42 420.24,258.48 421.04,257.54 421.84,256.60 422.65,255.67 423.45,254.73 424.26,253.80 425.07,252.87 425.88,251.94 426.69,251.02 427.51,250.09 428.33,249.17 429.15,248.25 429.97,247.34 430.80,246.42 431.63,245.51 432.46,244.61 433.29,243.70 434.13,242.80 434.96,241.89 435.80,240.99 436.65,240.10 437.49,239.20 438.34,238.31 439.18,237.41 440.03,236.52 440.88,235.63 441.73,234.75 442.58,233.86 443.44,232.97 444.29,232.09 445.15,231.20 446.00,230.32 446.86,229.44 447.72,228.55 448.57,227.67 449.43,226.79 450.29,225.91 451.15,225.03 452.02,224.16 452.88,223.28 453.74,222.41 454.61,221.53 455.48,220.66 456.34,219.79 457.21,218.91 458.08,218.05 458.95,217.18 459.83,216.31 460.70,215.45 461.58,214.58 462.45,213.72 463.33,212.86 464.22,212.00 465.10,211.15 465.99,210.29 466.87,209.44 467.77,208.60 468.66,207.75 469.56,206.91 470.45,206.07 471.36,205.23 472.26,204.39 473.17,203.56 474.08,202.73 474.99,201.90 475.90,201.08 476.82,200.26 477.74,199.44 478.66,198.62 479.59,197.80 480.51,196.99 481.44,196.18 482.37,195.37 483.30,194.56 484.23,193.75 485.16,192.94 486.10,192.14 487.03,191.33 487.97,190.53 488.91,189.73 489.84,188.93 490.78,188.12 491.72,187.32 492.66,186.52 493.60,185.72 494.54,184.92 495.48,184.12 496.42,183.32 497.36,182.52 498.30,181.72 499.24,180.93 500.18,180.13 501.12,179.33 502.06,178.53 503.01,177.74 503.95,176.94 504.90,176.15 505.84,175.35 506.79,174.56 507.74,173.77 508.69,172.98 509.64,172.19 510.59,171.40 511.54,170.61 512.49,169.83 513.45,169.04 514.40,168.26 515.36,167.48 516.32,166.70 517.28,165.92 518.24,165.14 519.20,164.36 520.17,163.59 521.13,162.81 522.10,162.04 523.07,161.27 524.03,160.49 525.00,159.72 525.97,158.95 526.94,158.18 527.91,157.42 528.88,156.65 529.86,155.88 530.83,155.12 531.80,154.35 532.78,153.58 533.75,152.82 534.73,152.06 535.70,151.29 536.68,150.53 537.66,149.77 538.63,149.00 539.61,148.24 540.59,147.48 541.57,146.72 542.55,145.96 543.52,145.20 544.50,144.44 545.48,143.68 546.46,142.92 547.44,142.16 548.43,141.40 549.41,140.64 550.39,139.89 551.37,139.13 552.36,138.38 553.34,137.62 554.33,136.87 555.32,136.12 556.31,135.37 557.30,134.62 558.30,133.88 559.29,133.13 560.29,132.39 561.29,131.65 562.29,130.92 563.30,130.18 564.31,129.45 565.32,128.72 566.33,127.99 567.34,127.27 568.36,126.55 569.38,125.83 570.41,125.11 571.43,124.40 572.46,123.69 573.49,122.98 574.52,122.27 575.55,121.56 576.59,120.86 577.62,120.16 578.66,119.45 579.70,118.76 580.75,118.06 581.79,117.36 582.84,116.67 583.88,115.98 584.93,115.29 585.98,114.60 587.04,113.91 588.09,113.23 589.15,112.55 590.21,111.87 591.27,111.19 592.33,110.51 593.40,109.84 594.46,109.16 595.53,108.49 596.60,107.82 597.67,107.15 598.75,106.49 599.82,105.82 600.90,105.16 601.98,104.50 603.06,103.84 604.14,103.18 605.22,102.53 606.31,101.87 607.39,101.22 608.48,100.57 609.57,99.92 610.67,99.27 611.76,98.63 612.85,97.98 613.95,97.34 615.05,96.70 616.15,96.06 617.25,95.42 618.36,94.79 619.46,94.15 620.57,93.52 621.67,92.89 622.78,92.25 623.89,91.62 625.00,90.99 626.11,90.36 627.22,89.74 628.33,89.11 629.45,88.48 630.56,87.86 631.67,87.23 632.79,86.60 633.90,85.98 635.02,85.36 636.13,84.73 637.25,84.11 638.37,83.49 639.48,82.86 640.60,82.24 641.72,81.62 642.84,81.00 643.96,80.38 645.08,79.76 646.20,79.15 647.32,78.53 648.45,77.91 649.57,77.30 650.70,76.68 651.82,76.07 652.95,75.46 654.08,74.84 655.20,74.23 656.33,73.62 657.46,73.01 658.59,72.40 659.72,71.79 660.85,71.19 661.99,70.58 663.12,69.97 664.25,69.36 665.38,68.76 666.52,68.15 667.65,67.54 668.78,66.94 669.92,66.33 671.05,65.73 672.18,65.12 673.32,64.51 674.45,63.91 675.59,63.30 676.72,62.70 677.85,62.09 679.00,61.50" fill="none" stroke="#bf00bf" stroke-width="1.5" stroke-linejoin="round"/>
<polyline points="391.50,294.10 392.22,293.08 393.06,292.19 393.91,291.29 394.75,290.40 395.60,289.50 396.44,288.61 397.29,287.71 398.13,286.82 398.98,285.93 399.83,285.03 400.68,284.14 401.52,283.25 402.37,282.36 403.22,281.47 404.07,280.58 404.92,279.69 405.77,278.80 406.63,277.91 407.48,277.03 408.33,276.14 409.18,275.25 410.03,274.37 410.89,273.48 411.74,272.59 412.59,271.71 413.45,270.82 414.30,269.93 415.15,269.05 416.01,268.16 416.86,267.28 417.72,266.39 418.57,265.51 419.43,264.62 420.28,263.74 421.14,262.86 422.00,261.98 422.86,261.10 423.72,260.22 424.58,259.34 425.44,258.46 426.30,257.58 427.17,256.71 428.03,255.84 428.90,254.97 429.77,254.10 430.65,253.23 431.52,252.37 432.40,251.51 433.28,250.65 434.17,249.80 435.06,248.94 435.95,248.10 436.84,247.25 437.74,246.41 438.64,245.57 439.55,244.74 440.46,243.91 441.37,243.08 442.28,242.26 443.20,241.43 444.12,240.61 445.04,239.79 445.96,238.98 446.89,238.16 447.82,237.35 448.74,236.54 449.67,235.73 450.60,234.92 451.53,234.11 452.47,233.30 453.40,232.50 454.33,231.69 455.27,230.89 456.20,230.08 457.14,229.28 458.07,228.47 459.01,227.67 459.94,226.86 460.88,226.06 461.81,225.25 462.75,224.45 463.68,223.64 464.61,222.84 465.55,222.03 466.48,221.23 467.42,220.42 468.35,219.62 469.29,218.81 470.22,218.01 471.15,217.20 472.09,216.40 473.02,215.59 473.95,214.78 474.89,213.98 475.82,213.17 476.75,212.37 477.69,211.56 478.62,210.75 479.55,209.95 480.49,209.14 481.42,208.34 482.35,207.53 483.29,206.72 484.22,205.92 485.16,205.11 486.09,204.31 487.02,203.50 487.96,202.70 488.89,201.89 489.83,201.09 490.76,200.28 491.70,199.48 492.63,198.67 493.57,197.87 494.50,197.06 495.44,196.26 496.37,195.46 497.31,194.65 498.24,193.85 499.18,193.05 500.12,192.24 501.05,191.44 501.99,190.64 502.93,189.83 503.86,189.03 504.80,188.23 505.74,187.43 506.68,186.63 507.61,185.82 508.55,185.02 509.49,184.22 510.43,183.42 511.37,182.62 512.31,181.82 513.25,181.03 514.19,180.23 515.14,179.43 516.08,178.64 517.03,177.84 517.97,177.05 518.92,176.26 519.87,175.46 520.82,174.67 521.77,173.89 522.72,173.10 523.68,172.31 524.63,171.53 525.59,170.75 526.55,169.97 527.51,169.19 528.47,168.41 529.44,167.64 530.40,166.86 531.37,166.09 532.33,165.32 533.30,164.54 534.27,163.77 535.23,163.00 536.20,162.23 537.17,161.45 538.14,160.68 539.10,159.91 540.07,159.13 541.03,158.36 542.00,157.58 542.96,156.81 543.92,156.03 544.88,155.25 545.84,154.47 546.79,153.68 547.75,152.90 548.70,152.11 549.66,151.33 550.61,150.54 551.56,149.75 552.51,148.97 553.46,148.18 554.41,147.39 555.37,146.60 556.32,145.82 557.27,145.03 558.23,144.25 559.19,143.47 560.15,142.69 561.11,141.91 562.07,141.13 563.04,140.36 564.01,139.59 564.98,138.83 565.96,138.06 566.94,137.30 567.92,136.55 568.91,135.79 569.90,135.04 570.89,134.29 571.88,133.55 572.88,132.81 573.88,132.07 574.88,131.33 575.89,130.59 576.89,129.86 577.90,129.13 578.91,128.40 579.92,127.67 580.93,126.94 581.95,126.22 582.96,125.49 583.98,124.77 585.00,124.05 586.02,123.33 587.04,122.61 588.06,121.90 589.09,121.18 590.11,120.47 591.14,119.75 592.16,119.04 593.19,118.33 594.22,117.62 595.25,116.91 596.28,116.20 597.31,115.49 598.34,114.78 599.37,114.07 600.41,113.36 601.44,112.66 602.47,111.95 603.50,111.25 604.54,110.54 605.57,109.83 606.61,109.13 607.64,108.42 608.68,107.72 609.71,107.01 610.75,106.31 611.78,105.61 612.82,104.90 613.85,104.20 614.89,103.49 615.92,102.79 616.96,102.09 618.00,101.39 619.03,100.68 620.07,99.98 621.11,99.28 622.15,98.58 623.18,97.87 624.22,97.17 625.26,96.47 626.30,95.77 627.34,95.07 628.38,94.37 629.42,93.67 630.46,92.98 631.50,92.28 632.54,91.58 633.58,90.88 634.63,90.18 635.67,89.49 636.71,88.79 637.76,88.10 638.80,87.40 639.85,86.71 640.89,86.01 641.94,85.32 642.99,84.63 644.04,83.94 645.08,83.25 646.13,82.56 647.18,81.87 648.24,81.18 649.29,80.49 650.34,79.81 651.40,79.12 652.45,78.44 653.51,77.76 654.56,77.07 655.62,76.39 656.68,75.71 657.74,75.03 658.80,74.35 659.86,73.67 660.92,72.99 661.98,72.31 663.04,71.64 664.11,70.96 665.17,70.28 666.23,69.60 667.29,68.93 668.36,68.25 669.42,67.57 670.48,66.90 671.55,66.22 672.61,65.55 673.67,64.87 674.74,64.19 675.80,63.52 676.86,62.84 677.93,62.17 679.00,61.50" fill="none" stroke="#000000" stroke-width="1.5" stroke-linejoin="round"/>
<polyline points="393.23,294.10 393.24,292.38 393.25,290.66 393.27,288.94 393.28,287.22 393.29,285.50 393.31,283.78 393.32,282.06 393.34,280.34 393.35,278.62 393.36,276.90 393.38,275.18 393.39,273.46 393.41,271.74 393.42,270.02 393.43,268.30 393.45,266.59 393.46,264.87 393.48,263.15 393.49,261.43 393.51,259.71 393.52,257.99 393.54,256.27 393.55,254.55 393.57,252.83 393.58,251.11 393.60,249.40 393.61,247.68 393.63,245.96 393.64,244.24 393.66,242.52 393.68,240.81 393.69,239.09 393.71,237.37 393.73,235.65 393.74,233.94 393.76,232.22 393.78,230.51 393.79,228.79 393.81,227.07 393.83,225.36 393.85,223.64 393.86,221.92 393.88,220.21 393.90,218.49 393.92,216.77 393.93,215.06 393.95,213.34 393.96,211.62 393.98,209.90 393.99,208.18 394.01,206.46 394.02,204.74 394.03,203.02 394.04,201.30 394.05,199.57 394.06,197.85 394.07,196.12 394.08,194.40 394.09,192.67 394.09,190.95 394.10,189.22 394.11,187.50 394.12,185.77 394.13,184.05 394.14,182.33 394.16,180.61 394.18,178.90 394.20,177.18 394.23,175.48 394.26,173.78 394.30,172.08 394.35,170.40 394.40,168.72 394.47,167.05 394.55,165.40 394.64,163.75 394.75,162.13 394.87,160.51 395.00,158.92 395.16,157.34 395.34,155.78 395.53,154.25 395.75,152.73 396.00,151.24 396.26,149.78 396.56,148.33 396.87,146.92 397.21,145.52 397.58,144.16 397.97,142.81 398.39,141.50 398.83,140.20 399.29,138.93 399.78,137.68 400.28,136.46 400.82,135.26 401.37,134.07 401.94,132.91 402.54,131.77 403.15,130.65 403.78,129.55 404.43,128.47 405.10,127.41 405.79,126.36 406.50,125.33 407.22,124.32 407.96,123.33 408.72,122.36 409.50,121.40 410.29,120.46 411.10,119.53 411.93,118.63 412.78,117.74 413.64,116.87 414.52,116.02 415.42,115.19 416.33,114.37 417.27,113.56 418.21,112.78 419.17,112.01 420.15,111.25 421.14,110.50 422.14,109.77 423.16,109.05 424.19,108.35 425.23,107.66 426.28,106.97 427.34,106.30 428.41,105.64 429.50,104.99 430.59,104.35 431.69,103.72 432.80,103.10 433.92,102.48 435.06,101.88 436.19,101.29 437.34,100.70 438.50,100.13 439.67,99.56 440.84,99.00 442.03,98.45 443.22,97.91 444.43,97.38 445.64,96.86 446.86,96.35 448.10,95.85 449.34,95.36 450.60,94.88 451.86,94.41 453.13,93.96 454.42,93.50 455.71,93.06 457.01,92.63 458.32,92.20 459.63,91.78 460.95,91.37 462.28,90.96 463.61,90.56 464.95,90.17 466.29,89.77 467.64,89.39 468.99,89.00 470.34,88.62 471.69,88.24 473.05,87.87 474.41,87.50 475.78,87.13 477.15,86.76 478.52,86.40 479.89,86.04 481.26,85.68 482.64,85.32 484.03,84.97 485.41,84.62 486.80,84.28 488.20,83.94 489.60,83.61 491.00,83.28 492.41,82.96 493.83,82.64 495.26,82.33 496.69,82.03 498.12,81.73 499.57,81.44 501.02,81.16 502.48,80.89 503.95,80.62 505.42,80.36 506.91,80.11 508.39,79.87 509.89,79.63 511.39,79.39 512.90,79.17 514.41,78.94 515.92,78.73 517.44,78.51 518.97,78.30 520.49,78.10 522.02,77.89 523.56,77.69 525.09,77.49 526.63,77.30 528.17,77.10 529.71,76.91 531.25,76.72 532.79,76.52 534.33,76.33 535.88,76.14 537.42,75.95 538.97,75.76 540.51,75.57 542.05,75.38 543.60,75.20 545.14,75.01 546.69,74.82 548.23,74.63 549.77,74.44 551.32,74.25 552.86,74.06 554.40,73.87 555.95,73.68 557.49,73.48 559.03,73.29 560.58,73.10 562.12,72.91 563.66,72.72 565.20,72.53 566.75,72.34 568.29,72.15 569.83,71.96 571.37,71.77 572.92,71.57 574.46,71.38 576.00,71.19 577.55,71.00 579.09,70.81 580.63,70.62 582.17,70.43 583.72,70.24 585.26,70.05 586.80,69.86 588.35,69.67 589.89,69.48 591.44,69.29 592.98,69.10 594.53,68.91 596.07,68.73 597.62,68.54 599.17,68.35 600.72,68.17 602.27,67.99 603.82,67.80 605.37,67.62 606.93,67.45 608.49,67.27 610.05,67.09 611.61,66.92 613.17,66.75 614.74,66.58 616.31,66.42 617.88,66.26 619.45,66.10 621.03,65.94 622.61,65.79 624.20,65.64 625.79,65.50 627.38,65.35 628.97,65.21 630.57,65.08 632.16,64.94 633.76,64.81 635.37,64.68 636.97,64.55 638.58,64.42 640.19,64.30 641.80,64.17 643.41,64.05 645.02,63.93 646.64,63.81 648.25,63.69 649.87,63.58 651.49,63.46 653.10,63.34 654.72,63.23 656.34,63.11 657.96,62.99 659.57,62.88 661.19,62.76 662.81,62.65 664.43,62.53 666.05,62.42 667.67,62.30 669.29,62.19 670.91,62.07 672.53,61.96 674.14,61.85 675.76,61.73 677.38,61.62 679.00,61.50" fill="none" stroke="#0000ff" stroke-width="3.1" stroke-dasharray="3.1 2.6"/>
<polyline points="393.23,294.10 393.26,292.40 393.27,290.68 393.28,288.96 393.30,287.24 393.31,285.52 393.32,283.79 393.33,282.07 393.34,280.35 393.36,278.63 393.37,276.91 393.38,275.18 393.39,273.46 393.40,271.74 393.41,270.01 393.42,268.29 393.43,266.57 393.44,264.84 393.45,263.12 393.46,261.39 393.46,259.66 393.47,257.94 393.48,256.21 393.48,254.48 393.49,252.76 393.50,251.03 393.50,249.30 393.51,247.57 393.51,245.84 393.52,244.11 393.52,242.39 393.53,240.66 393.53,238.93 393.54,237.20 393.54,235.47 393.55,233.74 393.55,232.01 393.56,230.29 393.57,228.56 393.57,226.83 393.58,225.11 393.59,223.38 393.59,221.65 393.60,219.93 393.61,218.20 393.62,216.48 393.63,214.75 393.63,213.02 393.64,211.30 393.65,209.57 393.65,207.84 393.66,206.12 393.67,204.39 393.67,202.66 393.68,200.93 393.68,199.20 393.68,197.47 393.69,195.74 393.69,194.01 393.69,192.28 393.69,190.55 393.69,188.81 393.70,187.08 393.70,185.35 393.70,183.62 393.71,181.90 393.72,180.17 393.73,178.45 393.74,176.73 393.76,175.01 393.79,173.30 393.82,171.60 393.85,169.90 393.90,168.21 393.95,166.54 394.02,164.87 394.10,163.21 394.19,161.57 394.29,159.94 394.41,158.33 394.55,156.73 394.71,155.16 394.89,153.60 395.09,152.07 395.31,150.55 395.55,149.06 395.82,147.60 396.11,146.16 396.43,144.74 396.77,143.35 397.14,141.98 397.53,140.64 397.95,139.32 398.39,138.03 398.85,136.76 399.34,135.52 399.86,134.30 400.39,133.10 400.95,131.92 401.53,130.77 402.13,129.64 402.76,128.53 403.40,127.44 404.06,126.36 404.74,125.31 405.44,124.28 406.16,123.26 406.89,122.26 407.65,121.28 408.42,120.32 409.20,119.37 410.01,118.44 410.83,117.53 411.67,116.64 412.53,115.77 413.41,114.91 414.30,114.06 415.20,113.24 416.13,112.43 417.06,111.63 418.02,110.85 418.98,110.08 419.96,109.33 420.96,108.59 421.96,107.86 422.98,107.14 424.01,106.44 425.05,105.74 426.10,105.06 427.16,104.39 428.24,103.73 429.32,103.08 430.42,102.45 431.52,101.82 432.64,101.20 433.76,100.59 434.90,99.99 436.04,99.40 437.19,98.82 438.36,98.25 439.53,97.69 440.71,97.14 441.91,96.60 443.11,96.07 444.33,95.55 445.55,95.04 446.79,94.54 448.03,94.06 449.29,93.58 450.56,93.12 451.84,92.66 453.13,92.22 454.43,91.79 455.75,91.36 457.06,90.95 458.39,90.54 459.73,90.15 461.07,89.76 462.42,89.37 463.78,88.99 465.14,88.62 466.50,88.25 467.87,87.89 469.25,87.53 470.63,87.18 472.01,86.82 473.39,86.47 474.78,86.13 476.17,85.79 477.56,85.44 478.96,85.11 480.36,84.77 481.76,84.44 483.17,84.11 484.57,83.79 485.99,83.47 487.40,83.15 488.82,82.83 490.25,82.53 491.68,82.22 493.11,81.92 494.55,81.63 496.00,81.34 497.45,81.06 498.91,80.79 500.38,80.52 501.85,80.26 503.33,80.00 504.81,79.75 506.30,79.51 507.80,79.27 509.30,79.04 510.81,78.82 512.33,78.60 513.84,78.38 515.37,78.17 516.89,77.96 518.42,77.76 519.95,77.56 521.49,77.36 523.03,77.16 524.57,76.97 526.11,76.78 527.65,76.58 529.19,76.40 530.74,76.21 532.29,76.02 533.83,75.83 535.38,75.65 536.93,75.46 538.48,75.28 540.02,75.09 541.57,74.90 543.12,74.72 544.67,74.53 546.22,74.35 547.77,74.16 549.32,73.98 550.86,73.79 552.41,73.61 553.96,73.42 555.51,73.24 557.06,73.05 558.60,72.86 560.15,72.68 561.70,72.49 563.25,72.31 564.79,72.12 566.34,71.93 567.89,71.75 569.44,71.56 570.99,71.38 572.53,71.19 574.08,71.01 575.63,70.82 577.18,70.63 578.73,70.45 580.27,70.26 581.82,70.08 583.37,69.89 584.92,69.71 586.47,69.52 588.02,69.34 589.57,69.16 591.12,68.97 592.67,68.79 594.22,68.61 595.77,68.42 597.33,68.24 598.88,68.06 600.43,67.88 601.99,67.71 603.55,67.53 605.11,67.36 606.67,67.18 608.23,67.01 609.79,66.84 611.36,66.68 612.93,66.51 614.50,66.35 616.08,66.19 617.65,66.03 619.23,65.88 620.82,65.73 622.40,65.58 623.99,65.44 625.59,65.30 627.18,65.16 628.78,65.03 630.38,64.90 631.99,64.77 633.60,64.64 635.20,64.51 636.82,64.39 638.43,64.27 640.04,64.15 641.66,64.03 643.28,63.92 644.90,63.80 646.52,63.69 648.14,63.58 649.76,63.47 651.38,63.35 653.00,63.24 654.63,63.13 656.25,63.02 657.88,62.91 659.50,62.80 661.13,62.70 662.75,62.59 664.38,62.48 666.00,62.37 667.63,62.26 669.25,62.15 670.88,62.04 672.50,61.94 674.13,61.83 675.75,61.72 677.38,61.61 679.00,61.50" fill="none" stroke="#008000" stroke-width="3.1" stroke-dasharray="3.1 2.6"/>
<polyline points="393.23,294.10 393.26,292.40 393.27,290.68 393.28,288.96 393.30,287.24 393.31,285.52 393.32,283.79 393.33,282.07 393.35,280.35 393.36,278.63 393.37,276.91 393.38,275.19 393.39,273.46 393.40,271.74 393.41,270.02 393.42,268.29 393.43,266.57 393.44,264.84 393.45,263.12 393.46,261.39 393.47,259.67 393.47,257.94 393.48,256.21 393.49,254.49 393.49,252.76 393.50,251.03 393.50,249.30 393.51,247.57 393.51,245.85 393.52,244.12 393.52,242.39 393.53,240.66 393.53,238.93 393.53,237.20 393.54,235.47 393.54,233.74 393.55,232.01 393.55,230.28 393.55,228.55 393.56,226.82 393.56,225.09 393.57,223.36 393.57,221.63 393.57,219.90 393.58,218.17 393.58,216.44 393.58,214.71 393.59,212.98 393.59,211.25 393.59,209.52 393.59,207.78 393.59,206.05 393.59,204.32 393.59,202.58 393.59,200.85 393.59,199.11 393.59,197.38 393.58,195.64 393.58,193.90 393.58,192.16 393.57,190.43 393.57,188.69 393.57,186.95 393.56,185.21 393.56,183.48 393.56,181.75 393.56,180.01 393.57,178.28 393.58,176.56 393.59,174.84 393.61,173.12 393.63,171.41 393.66,169.71 393.70,168.01 393.75,166.33 393.80,164.65 393.87,162.99 393.96,161.34 394.05,159.70 394.17,158.08 394.30,156.48 394.44,154.89 394.61,153.32 394.80,151.78 395.01,150.26 395.24,148.75 395.50,147.28 395.78,145.82 396.08,144.39 396.41,142.98 396.76,141.60 397.13,140.24 397.53,138.91 397.96,137.60 398.40,136.31 398.87,135.05 399.36,133.81 399.88,132.59 400.42,131.39 400.97,130.21 401.55,129.06 402.15,127.92 402.77,126.81 403.41,125.71 404.07,124.64 404.74,123.58 405.44,122.54 406.15,121.52 406.89,120.52 407.64,119.54 408.41,118.58 409.20,117.64 410.01,116.71 410.84,115.81 411.69,114.93 412.56,114.06 413.45,113.21 414.35,112.38 415.27,111.57 416.21,110.78 417.16,110.00 418.13,109.23 419.12,108.48 420.12,107.75 421.13,107.03 422.15,106.32 423.19,105.62 424.24,104.93 425.30,104.26 426.37,103.60 427.45,102.95 428.55,102.31 429.65,101.68 430.76,101.06 431.89,100.45 433.02,99.84 434.16,99.25 435.31,98.67 436.47,98.10 437.64,97.53 438.82,96.98 440.01,96.43 441.21,95.90 442.42,95.38 443.64,94.86 444.87,94.36 446.11,93.87 447.37,93.39 448.63,92.92 449.91,92.46 451.19,92.02 452.49,91.58 453.80,91.15 455.12,90.74 456.45,90.33 457.79,89.94 459.13,89.55 460.48,89.17 461.84,88.80 463.21,88.43 464.58,88.07 465.96,87.71 467.35,87.36 468.73,87.02 470.13,86.67 471.52,86.34 472.92,86.00 474.32,85.67 475.73,85.34 477.13,85.01 478.54,84.69 479.96,84.37 481.37,84.05 482.79,83.74 484.21,83.43 485.64,83.12 487.07,82.81 488.50,82.51 489.94,82.22 491.38,81.92 492.82,81.63 494.28,81.35 495.73,81.07 497.19,80.80 498.66,80.54 500.13,80.27 501.61,80.02 503.10,79.77 504.59,79.53 506.08,79.29 507.59,79.06 509.09,78.83 510.60,78.61 512.12,78.39 513.64,78.18 515.16,77.97 516.69,77.76 518.22,77.56 519.75,77.36 521.29,77.16 522.83,76.96 524.37,76.77 525.91,76.58 527.45,76.39 529.00,76.20 530.54,76.01 532.09,75.82 533.63,75.63 535.18,75.45 536.73,75.26 538.28,75.07 539.82,74.89 541.37,74.70 542.92,74.52 544.47,74.33 546.02,74.15 547.56,73.96 549.11,73.77 550.66,73.59 552.21,73.40 553.75,73.22 555.30,73.03 556.85,72.84 558.40,72.66 559.94,72.47 561.49,72.29 563.04,72.10 564.59,71.91 566.13,71.73 567.68,71.54 569.23,71.35 570.78,71.17 572.32,70.98 573.87,70.80 575.42,70.61 576.97,70.42 578.52,70.24 580.06,70.05 581.61,69.87 583.16,69.68 584.71,69.50 586.26,69.31 587.81,69.13 589.36,68.94 590.91,68.76 592.46,68.58 594.01,68.39 595.56,68.21 597.11,68.03 598.67,67.85 600.22,67.67 601.78,67.50 603.34,67.32 604.89,67.14 606.46,66.97 608.02,66.80 609.58,66.63 611.15,66.47 612.72,66.30 614.30,66.14 615.87,65.99 617.45,65.83 619.03,65.68 620.62,65.53 622.21,65.39 623.80,65.25 625.40,65.11 627.00,64.98 628.60,64.85 630.21,64.72 631.82,64.59 633.43,64.47 635.04,64.35 636.66,64.23 638.27,64.12 639.89,64.00 641.52,63.89 643.14,63.78 644.76,63.67 646.39,63.56 648.02,63.46 649.64,63.35 651.27,63.25 652.90,63.14 654.53,63.04 656.16,62.93 657.79,62.83 659.42,62.73 661.05,62.63 662.69,62.52 664.32,62.42 665.95,62.32 667.58,62.22 669.21,62.11 670.84,62.01 672.47,61.91 674.11,61.81 675.74,61.71 677.37,61.60 679.00,61.50" fill="none" stroke="#ff0000" stroke-width="3.1" stroke-dasharray="3.1 2.6"/>
<polyline points="393.23,294.10 393.23,292.37 393.24,290.65 393.25,288.93 393.27,287.21 393.28,285.49 393.30,283.77 393.31,282.05 393.33,280.33 393.34,278.62 393.36,276.90 393.38,275.18 393.39,273.46 393.41,271.75 393.43,270.03 393.45,268.32 393.47,266.60 393.49,264.89 393.52,263.18 393.54,261.48 393.57,259.77 393.60,258.07 393.64,256.37 393.68,254.68 393.72,252.99 393.77,251.30 393.82,249.62 393.88,247.94 393.94,246.27 394.01,244.61 394.08,242.95 394.17,241.30 394.25,239.65 394.35,238.01 394.45,236.38 394.57,234.76 394.69,233.15 394.82,231.55 394.96,229.95 395.10,228.37 395.26,226.79 395.43,225.23 395.61,223.67 395.81,222.13 396.01,220.60 396.23,219.09 396.46,217.58 396.70,216.09 396.95,214.61 397.22,213.14 397.50,211.69 397.79,210.25 398.10,208.83 398.43,207.42 398.77,206.02 399.12,204.64 399.49,203.28 399.88,201.93 400.28,200.60 400.70,199.28 401.13,197.98 401.57,196.69 402.03,195.42 402.51,194.16 402.99,192.91 403.49,191.68 404.00,190.45 404.52,189.24 405.06,188.04 405.60,186.85 406.15,185.67 406.72,184.50 407.29,183.34 407.87,182.19 408.46,181.04 409.06,179.91 409.68,178.79 410.30,177.68 410.93,176.58 411.57,175.49 412.23,174.41 412.89,173.34 413.57,172.28 414.26,171.24 414.96,170.20 415.67,169.18 416.39,168.17 417.12,167.17 417.87,166.18 418.62,165.20 419.39,164.23 420.16,163.27 420.94,162.32 421.73,161.37 422.53,160.44 423.34,159.51 424.15,158.59 424.97,157.68 425.80,156.77 426.63,155.87 427.47,154.98 428.32,154.09 429.17,153.21 430.03,152.33 430.89,151.46 431.76,150.60 432.64,149.74 433.52,148.89 434.40,148.04 435.30,147.20 436.20,146.37 437.10,145.54 438.02,144.72 438.94,143.90 439.87,143.10 440.80,142.30 441.75,141.52 442.70,140.74 443.67,139.97 444.65,139.21 445.63,138.47 446.63,137.73 447.65,137.01 448.67,136.30 449.71,135.60 450.76,134.92 451.82,134.25 452.90,133.59 453.98,132.94 455.08,132.31 456.19,131.69 457.31,131.07 458.44,130.47 459.58,129.87 460.72,129.28 461.88,128.70 463.03,128.13 464.20,127.56 465.37,126.99 466.54,126.43 467.72,125.88 468.90,125.32 470.08,124.77 471.27,124.22 472.45,123.68 473.64,123.13 474.83,122.59 476.02,122.04 477.21,121.50 478.40,120.95 479.59,120.41 480.78,119.87 481.97,119.32 483.16,118.78 484.34,118.23 485.53,117.68 486.72,117.14 487.91,116.59 489.09,116.04 490.28,115.50 491.46,114.95 492.65,114.40 493.84,113.85 495.02,113.30 496.21,112.76 497.39,112.21 498.58,111.66 499.77,111.11 500.95,110.57 502.14,110.02 503.33,109.48 504.52,108.94 505.72,108.40 506.91,107.86 508.11,107.32 509.31,106.79 510.51,106.26 511.72,105.73 512.93,105.21 514.14,104.68 515.36,104.17 516.58,103.65 517.80,103.14 519.03,102.64 520.26,102.14 521.50,101.64 522.74,101.15 523.99,100.66 525.24,100.18 526.50,99.71 527.76,99.24 529.03,98.77 530.31,98.31 531.59,97.86 532.88,97.42 534.17,96.98 535.47,96.54 536.77,96.11 538.08,95.68 539.39,95.26 540.71,94.85 542.03,94.44 543.36,94.03 544.69,93.62 546.02,93.22 547.36,92.83 548.70,92.43 550.04,92.04 551.39,91.66 552.74,91.28 554.10,90.90 555.46,90.52 556.82,90.15 558.19,89.79 559.56,89.42 560.94,89.07 562.31,88.71 563.70,88.36 565.09,88.02 566.48,87.67 567.87,87.34 569.27,87.00 570.68,86.67 572.08,86.35 573.49,86.02 574.91,85.70 576.32,85.38 577.74,85.07 579.16,84.76 580.59,84.45 582.01,84.14 583.44,83.83 584.87,83.52 586.30,83.22 587.73,82.92 589.16,82.61 590.59,82.31 592.02,82.01 593.45,81.70 594.88,81.40 596.31,81.10 597.74,80.79 599.17,80.49 600.59,80.18 602.02,79.87 603.44,79.56 604.87,79.25 606.29,78.94 607.70,78.62 609.12,78.30 610.53,77.98 611.94,77.66 613.35,77.33 614.75,77.00 616.15,76.66 617.54,76.33 618.93,75.98 620.32,75.64 621.70,75.29 623.08,74.93 624.46,74.57 625.83,74.21 627.20,73.85 628.57,73.48 629.93,73.11 631.29,72.74 632.65,72.36 634.01,71.99 635.36,71.61 636.72,71.23 638.08,70.85 639.43,70.47 640.79,70.10 642.14,69.72 643.50,69.35 644.86,68.97 646.23,68.60 647.59,68.23 648.96,67.87 650.34,67.51 651.71,67.15 653.09,66.80 654.48,66.45 655.87,66.11 657.26,65.77 658.66,65.43 660.07,65.11 661.48,64.78 662.89,64.46 664.31,64.14 665.73,63.83 667.15,63.52 668.58,63.21 670.01,62.91 671.44,62.60 672.87,62.30 674.30,62.00 675.73,61.70 677.17,61.50 679.00,61.50" fill="none" stroke="#bf00bf" stroke-width="3.5" stroke-dasharray="3.1 2.6"/>
<polyline points="393.23,294.10 393.23,292.37 393.25,290.65 393.26,288.94 393.28,287.22 393.29,285.50 393.31,283.78 393.33,282.07 393.34,280.35 393.36,278.63 393.38,276.91 393.39,275.20 393.41,273.48 393.43,271.76 393.45,270.05 393.47,268.34 393.49,266.62 393.51,264.91 393.53,263.20 393.56,261.49 393.58,259.79 393.61,258.08 393.65,256.38 393.68,254.68 393.72,252.99 393.76,251.29 393.81,249.60 393.86,247.92 393.91,246.24 393.97,244.57 394.03,242.90 394.10,241.23 394.18,239.57 394.26,237.92 394.34,236.27 394.44,234.63 394.54,233.00 394.65,231.37 394.76,229.76 394.88,228.15 395.02,226.54 395.16,224.95 395.30,223.36 395.46,221.79 395.63,220.22 395.81,218.67 395.99,217.12 396.19,215.58 396.39,214.05 396.61,212.54 396.84,211.03 397.08,209.53 397.32,208.05 397.58,206.57 397.85,205.11 398.13,203.66 398.43,202.22 398.73,200.79 399.05,199.37 399.37,197.96 399.71,196.56 400.06,195.18 400.41,193.80 400.78,192.43 401.16,191.07 401.54,189.72 401.93,188.38 402.33,187.05 402.74,185.72 403.15,184.40 403.57,183.09 404.00,181.78 404.43,180.48 404.88,179.19 405.32,177.91 405.78,176.63 406.24,175.36 406.71,174.09 407.19,172.83 407.67,171.58 408.16,170.34 408.66,169.10 409.16,167.87 409.67,166.65 410.19,165.44 410.72,164.23 411.25,163.03 411.79,161.83 412.34,160.65 412.89,159.47 413.45,158.29 414.02,157.13 414.59,155.97 415.17,154.81 415.76,153.67 416.36,152.53 416.96,151.40 417.57,150.27 418.18,149.16 418.81,148.05 419.44,146.94 420.08,145.85 420.73,144.76 421.38,143.69 422.05,142.62 422.72,141.56 423.40,140.50 424.09,139.46 424.80,138.43 425.51,137.41 426.23,136.40 426.97,135.40 427.71,134.41 428.47,133.43 429.23,132.47 430.01,131.51 430.80,130.56 431.59,129.63 432.40,128.70 433.22,127.78 434.04,126.87 434.87,125.97 435.71,125.08 436.56,124.19 437.42,123.32 438.28,122.45 439.16,121.59 440.04,120.73 440.92,119.89 441.82,119.05 442.72,118.22 443.63,117.40 444.56,116.58 445.49,115.78 446.42,114.98 447.37,114.20 448.33,113.43 449.30,112.66 450.28,111.91 451.28,111.17 452.28,110.44 453.29,109.72 454.32,109.01 455.35,108.31 456.40,107.62 457.46,106.95 458.52,106.28 459.60,105.62 460.68,104.97 461.77,104.32 462.87,103.69 463.97,103.06 465.08,102.44 466.20,101.82 467.32,101.21 468.45,100.60 469.59,100.00 470.72,99.41 471.86,98.81 473.01,98.23 474.16,97.64 475.31,97.06 476.46,96.48 477.62,95.90 478.78,95.33 479.94,94.75 481.10,94.19 482.27,93.62 483.44,93.06 484.62,92.50 485.79,91.94 486.97,91.39 488.16,90.84 489.35,90.29 490.54,89.75 491.74,89.22 492.94,88.69 494.15,88.16 495.37,87.64 496.59,87.13 497.82,86.63 499.05,86.13 500.29,85.64 501.54,85.15 502.80,84.68 504.07,84.21 505.34,83.75 506.62,83.30 507.91,82.85 509.20,82.41 510.50,81.98 511.81,81.55 513.13,81.13 514.45,80.72 515.77,80.31 517.10,79.91 518.44,79.51 519.79,79.12 521.14,78.74 522.50,78.37 523.86,78.00 525.23,77.63 526.61,77.27 527.99,76.93 529.38,76.58 530.78,76.25 532.19,75.92 533.60,75.60 535.03,75.29 536.46,74.99 537.90,74.70 539.34,74.41 540.80,74.13 542.26,73.86 543.73,73.60 545.21,73.34 546.69,73.09 548.18,72.85 549.68,72.61 551.18,72.38 552.69,72.15 554.20,71.93 555.72,71.71 557.24,71.50 558.76,71.29 560.29,71.09 561.83,70.89 563.36,70.69 564.90,70.49 566.45,70.30 567.99,70.12 569.54,69.93 571.09,69.75 572.64,69.56 574.19,69.38 575.75,69.21 577.31,69.03 578.86,68.85 580.42,68.68 581.98,68.51 583.55,68.33 585.11,68.16 586.67,67.99 588.23,67.82 589.80,67.65 591.36,67.48 592.93,67.31 594.49,67.14 596.06,66.98 597.63,66.81 599.20,66.65 600.77,66.48 602.34,66.32 603.91,66.16 605.49,66.00 607.06,65.85 608.64,65.69 610.23,65.54 611.81,65.39 613.40,65.25 614.99,65.10 616.58,64.96 618.18,64.83 619.78,64.70 621.39,64.57 623.00,64.45 624.61,64.33 626.23,64.21 627.85,64.10 629.48,63.99 631.11,63.88 632.74,63.78 634.37,63.68 636.01,63.59 637.65,63.49 639.29,63.40 640.94,63.31 642.58,63.23 644.23,63.14 645.88,63.06 647.53,62.97 649.19,62.89 650.84,62.81 652.49,62.73 654.15,62.65 655.80,62.57 657.46,62.50 659.11,62.42 660.77,62.34 662.43,62.26 664.08,62.19 665.74,62.11 667.40,62.03 669.06,61.96 670.71,61.88 672.37,61.80 674.03,61.73 675.68,61.65 677.34,61.58 679.00,61.50" fill="none" stroke="#000000" stroke-width="3.1" stroke-dasharray="3.1 2.6"/></g>
<text x="391.50" y="308.70" text-anchor="middle" class="tk">0</text>
<text x="387.60" y="298.70" text-anchor="end" class="tk">0</text>
<text x="449.00" y="308.70" text-anchor="middle" class="tk">0.2</text>
<text x="387.60" y="252.18" text-anchor="end" class="tk">0.2</text>
<text x="506.50" y="308.70" text-anchor="middle" class="tk">0.4</text>
<text x="387.60" y="205.66" text-anchor="end" class="tk">0.4</text>
<text x="564.00" y="308.70" text-anchor="middle" class="tk">0.6</text>
<text x="387.60" y="159.14" text-anchor="end" class="tk">0.6</text>
<text x="621.50" y="308.70" text-anchor="middle" class="tk">0.8</text>
<text x="387.60" y="112.62" text-anchor="end" class="tk">0.8</text>
<path d="M678.70,298.80 L680.35,298.80 L680.35,308.70 L678.70,308.70 L678.70,301.70 C678.00,302.30 677.20,302.70 676.40,302.90 L676.40,301.50 C677.50,301.10 678.30,300.10 678.80,298.80 Z" fill="#000"/>
<path d="M384.15,56.20 L385.80,56.20 L385.80,66.10 L384.15,66.10 L384.15,59.10 C383.45,59.70 382.65,60.10 381.85,60.30 L381.85,58.90 C382.95,58.50 383.75,57.50 384.25,56.20 Z" fill="#000"/>
<text x="524.35" y="325.90" font-size="16.3">P<tspan font-size="11.5" dy="7">fa</tspan></text>
<text transform="translate(355.20,191.00) rotate(-90)" font-size="16.3">P<tspan font-size="11.5" dy="7">det</tspan></text>
<text id="titleb" x="391.90" y="50.00" font-size="15.4" textLength="287.60" lengthAdjust="spacingAndGlyphs" xml:space="preserve">Message <tspan class="h1">1</tspan>,  2048 samples,  INR = -<tspan class="h1">1</tspan>6dB</text>
<path d="M463.60,39.11 L465.14,39.11 L465.14,50.00 L463.60,50.00 L463.60,42.30 C462.83,42.96 461.95,43.40 461.07,43.62 L461.07,42.08 C462.28,41.64 463.16,40.54 463.70,39.11 Z" fill="#000"/>
<path d="M646.44,39.11 L647.98,39.11 L647.98,50.00 L646.44,50.00 L646.44,42.30 C645.67,42.96 644.79,43.40 643.91,43.62 L643.91,42.08 C645.12,41.64 646.00,40.54 646.54,39.11 Z" fill="#000"/>
<text x="499.70" y="20.90" font-family="Liberation Serif, serif" font-weight="bold" font-size="20.5">(b)</text>
<line x1="788.68" y1="64.80" x2="788.68" y2="294.20" stroke="#3c3c3c" stroke-width="1" stroke-dasharray="2 2.2"/>
<line x1="732.30" y1="248.32" x2="1014.20" y2="248.32" stroke="#3c3c3c" stroke-width="1" stroke-dasharray="2 2.2"/>
<line x1="845.06" y1="64.80" x2="845.06" y2="294.20" stroke="#3c3c3c" stroke-width="1" stroke-dasharray="2 2.2"/>
<line x1="732.30" y1="202.44" x2="1014.20" y2="202.44" stroke="#3c3c3c" stroke-width="1" stroke-dasharray="2 2.2"/>
<line x1="901.44" y1="64.80" x2="901.44" y2="294.20" stroke="#3c3c3c" stroke-width="1" stroke-dasharray="2 2.2"/>
<line x1="732.30" y1="156.56" x2="1014.20" y2="156.56" stroke="#3c3c3c" stroke-width="1" stroke-dasharray="2 2.2"/>
<line x1="957.82" y1="64.80" x2="957.82" y2="294.20" stroke="#3c3c3c" stroke-width="1" stroke-dasharray="2 2.2"/>
<line x1="732.30" y1="110.68" x2="1014.20" y2="110.68" stroke="#3c3c3c" stroke-width="1" stroke-dasharray="2 2.2"/>
<rect x="732.30" y="64.80" width="281.90" height="229.40" fill="none" stroke="#4a4a4a" stroke-width="1.2"/>
<line x1="788.68" y1="294.20" x2="788.68" y2="291.20" stroke="#4a4a4a" stroke-width="1.1"/>
<line x1="788.68" y1="64.80" x2="788.68" y2="67.80" stroke="#4a4a4a" stroke-width="1.1"/>
<line x1="732.30" y1="248.32" x2="735.30" y2="248.32" stroke="#4a4a4a" stroke-width="1.1"/>
<line x1="1014.20" y1="248.32" x2="1011.20" y2="248.32" stroke="#4a4a4a" stroke-width="1.1"/>
<line x1="845.06" y1="294.20" x2="845.06" y2="291.20" stroke="#4a4a4a" stroke-width="1.1"/>
<line x1="845.06" y1="64.80" x2="845.06" y2="67.80" stroke="#4a4a4a" stroke-width="1.1"/>
<line x1="732.30" y1="202.44" x2="735.30" y2="202.44" stroke="#4a4a4a" stroke-width="1.1"/>
<line x1="1014.20" y1="202.44" x2="1011.20" y2="202.44" stroke="#4a4a4a" stroke-width="1.1"/>
<line x1="901.44" y1="294.20" x2="901.44" y2="291.20" stroke="#4a4a4a" stroke-width="1.1"/>
<line x1="901.44" y1="64.80" x2="901.44" y2="67.80" stroke="#4a4a4a" stroke-width="1.1"/>
<line x1="732.30" y1="156.56" x2="735.30" y2="156.56" stroke="#4a4a4a" stroke-width="1.1"/>
<line x1="1014.20" y1="156.56" x2="1011.20" y2="156.56" stroke="#4a4a4a" stroke-width="1.1"/>
<line x1="957.82" y1="294.20" x2="957.82" y2="291.20" stroke="#4a4a4a" stroke-width="1.1"/>
<line x1="957.82" y1="64.80" x2="957.82" y2="67.80" stroke="#4a4a4a" stroke-width="1.1"/>
<line x1="732.30" y1="110.68" x2="735.30" y2="110.68" stroke="#4a4a4a" stroke-width="1.1"/>
<line x1="1014.20" y1="110.68" x2="1011.20" y2="110.68" stroke="#4a4a4a" stroke-width="1.1"/>
<g clip-path="url(#clipc)"><polyline points="732.30,294.20 732.30,292.21 732.74,291.22 733.45,290.22 734.17,289.23 734.88,288.23 735.60,287.24 736.33,286.26 737.05,285.27 737.78,284.29 738.52,283.32 739.26,282.35 740.00,281.38 740.75,280.42 741.50,279.46 742.26,278.51 743.02,277.56 743.79,276.62 744.57,275.69 745.35,274.76 746.13,273.83 746.92,272.91 747.71,271.99 748.51,271.08 749.31,270.17 750.12,269.27 750.93,268.37 751.74,267.47 752.56,266.58 753.38,265.68 754.20,264.80 755.02,263.91 755.85,263.03 756.68,262.14 757.51,261.26 758.34,260.39 759.17,259.51 760.01,258.63 760.84,257.76 761.68,256.89 762.52,256.02 763.36,255.15 764.20,254.28 765.05,253.41 765.89,252.55 766.74,251.69 767.59,250.82 768.44,249.96 769.29,249.11 770.14,248.25 771.00,247.40 771.86,246.54 772.72,245.69 773.58,244.85 774.44,244.00 775.31,243.16 776.18,242.32 777.06,241.48 777.93,240.65 778.81,239.82 779.69,238.99 780.58,238.17 781.47,237.34 782.36,236.53 783.25,235.71 784.15,234.90 785.05,234.09 785.95,233.28 786.86,232.47 787.76,231.67 788.67,230.87 789.58,230.07 790.49,229.27 791.41,228.48 792.32,227.68 793.24,226.89 794.16,226.09 795.08,225.30 796.00,224.51 796.92,223.72 797.84,222.93 798.76,222.14 799.68,221.35 800.60,220.56 801.52,219.78 802.44,218.99 803.36,218.20 804.28,217.41 805.20,216.61 806.11,215.82 807.03,215.03 807.95,214.23 808.86,213.44 809.78,212.64 810.69,211.85 811.60,211.05 812.51,210.24 813.42,209.44 814.32,208.64 815.22,207.83 816.12,207.02 817.02,206.21 817.92,205.40 818.82,204.58 819.71,203.76 820.60,202.94 821.49,202.12 822.37,201.30 823.26,200.48 824.14,199.65 825.03,198.82 825.91,197.99 826.79,197.17 827.67,196.34 828.55,195.51 829.44,194.68 830.32,193.86 831.21,193.03 832.10,192.21 832.99,191.39 833.88,190.57 834.77,189.76 835.67,188.95 836.57,188.13 837.47,187.33 838.38,186.52 839.28,185.72 840.19,184.92 841.10,184.12 842.02,183.32 842.93,182.53 843.85,181.74 844.77,180.95 845.69,180.16 846.61,179.37 847.54,178.58 848.46,177.80 849.39,177.01 850.31,176.23 851.24,175.44 852.16,174.66 853.09,173.87 854.01,173.09 854.94,172.30 855.86,171.52 856.78,170.73 857.70,169.94 858.62,169.14 859.53,168.35 860.45,167.55 861.35,166.75 862.26,165.95 863.16,165.14 864.06,164.33 864.95,163.51 865.84,162.69 866.73,161.86 867.61,161.03 868.48,160.20 869.35,159.36 870.22,158.51 871.08,157.66 871.94,156.81 872.79,155.95 873.64,155.09 874.48,154.23 875.33,153.36 876.17,152.49 877.01,151.63 877.86,150.76 878.70,149.90 879.55,149.04 880.41,148.18 881.27,147.33 882.13,146.49 883.00,145.65 883.88,144.82 884.77,143.99 885.67,143.18 886.57,142.38 887.48,141.58 888.41,140.79 889.34,140.01 890.28,139.25 891.24,138.49 892.20,137.74 893.17,137.00 894.15,136.27 895.14,135.55 896.14,134.84 897.14,134.14 898.16,133.44 899.18,132.75 900.21,132.08 901.25,131.40 902.29,130.74 903.34,130.08 904.40,129.42 905.46,128.77 906.52,128.13 907.59,127.48 908.66,126.84 909.73,126.21 910.81,125.57 911.88,124.94 912.96,124.30 914.04,123.67 915.11,123.03 916.19,122.40 917.26,121.76 918.33,121.12 919.40,120.48 920.47,119.84 921.53,119.19 922.59,118.55 923.65,117.90 924.71,117.24 925.77,116.59 926.82,115.93 927.87,115.28 928.92,114.62 929.97,113.95 931.02,113.29 932.06,112.63 933.11,111.96 934.15,111.29 935.19,110.62 936.23,109.95 937.27,109.28 938.31,108.61 939.35,107.94 940.39,107.27 941.43,106.60 942.47,105.93 943.51,105.26 944.55,104.59 945.59,103.92 946.63,103.25 947.67,102.58 948.71,101.91 949.76,101.25 950.80,100.58 951.85,99.92 952.90,99.26 953.95,98.60 955.00,97.94 956.05,97.29 957.11,96.63 958.17,95.98 959.23,95.33 960.29,94.68 961.36,94.04 962.42,93.39 963.49,92.75 964.56,92.11 965.63,91.48 966.71,90.84 967.78,90.21 968.86,89.57 969.94,88.94 971.02,88.31 972.11,87.69 973.19,87.06 974.28,86.44 975.36,85.81 976.45,85.19 977.54,84.57 978.63,83.95 979.73,83.34 980.82,82.72 981.92,82.11 983.01,81.49 984.11,80.88 985.21,80.27 986.32,79.67 987.42,79.06 988.52,78.45 989.63,77.85 990.74,77.25 991.85,76.65 992.96,76.05 994.07,75.45 995.18,74.85 996.30,74.26 997.41,73.66 998.53,73.07 999.64,72.47 1000.76,71.88 1001.88,71.29 1002.99,70.69 1004.11,70.10 1005.23,69.51 1006.35,68.92 1007.46,68.32 1008.58,67.73 1009.70,67.14 1010.82,66.55 1011.94,65.96 1013.06,65.37 1014.20,64.80" fill="none" stroke="#0000ff" stroke-width="1.5" stroke-linejoin="round"/>
<polyline points="732.30,294.20 732.35,292.54 732.39,290.87 732.43,289.20 732.47,287.53 732.51,285.86 732.55,284.19 732.58,282.51 732.62,280.84 732.66,279.17 732.70,277.50 732.74,275.83 732.78,274.16 732.82,272.49 732.86,270.82 732.91,269.16 732.95,267.49 733.00,265.83 733.04,264.16 733.09,262.50 733.15,260.85 733.20,259.19 733.26,257.54 733.33,255.90 733.40,254.25 733.47,252.62 733.55,250.99 733.64,249.37 733.74,247.75 733.84,246.15 733.95,244.55 734.08,242.96 734.21,241.39 734.35,239.82 734.51,238.27 734.68,236.73 734.87,235.20 735.06,233.69 735.28,232.20 735.51,230.72 735.75,229.25 736.02,227.80 736.30,226.37 736.59,224.96 736.91,223.57 737.24,222.19 737.59,220.83 737.96,219.48 738.34,218.16 738.74,216.85 739.16,215.55 739.59,214.28 740.04,213.02 740.50,211.77 740.99,210.54 741.48,209.33 742.00,208.13 742.53,206.95 743.07,205.79 743.64,204.64 744.21,203.51 744.81,202.40 745.42,201.30 746.05,200.22 746.70,199.15 747.36,198.10 748.03,197.07 748.72,196.05 749.42,195.04 750.14,194.05 750.87,193.06 751.61,192.09 752.35,191.13 753.11,190.18 753.88,189.24 754.66,188.31 755.44,187.38 756.23,186.46 757.03,185.55 757.84,184.64 758.65,183.74 759.46,182.85 760.29,181.96 761.11,181.08 761.95,180.20 762.78,179.33 763.63,178.47 764.48,177.60 765.33,176.75 766.19,175.89 767.05,175.04 767.91,174.20 768.78,173.36 769.65,172.52 770.53,171.69 771.41,170.86 772.30,170.03 773.18,169.21 774.08,168.39 774.97,167.58 775.87,166.77 776.78,165.96 777.68,165.16 778.60,164.36 779.51,163.57 780.44,162.78 781.37,162.00 782.30,161.23 783.24,160.46 784.19,159.70 785.14,158.94 786.10,158.19 787.07,157.45 788.05,156.71 789.03,155.99 790.02,155.26 791.02,154.55 792.02,153.85 793.03,153.15 794.05,152.45 795.07,151.77 796.10,151.08 797.13,150.41 798.17,149.74 799.21,149.07 800.26,148.41 801.31,147.75 802.37,147.09 803.43,146.44 804.49,145.79 805.55,145.15 806.62,144.50 807.69,143.86 808.76,143.22 809.83,142.58 810.90,141.95 811.98,141.31 813.05,140.68 814.13,140.05 815.21,139.41 816.29,138.78 817.36,138.15 818.44,137.52 819.52,136.89 820.60,136.26 821.68,135.63 822.76,135.00 823.84,134.37 824.92,133.74 826.00,133.11 827.09,132.48 828.17,131.86 829.26,131.23 830.35,130.61 831.44,129.99 832.53,129.38 833.63,128.77 834.73,128.16 835.84,127.55 836.95,126.95 838.06,126.35 839.18,125.76 840.30,125.18 841.43,124.60 842.57,124.02 843.71,123.45 844.86,122.89 846.01,122.34 847.17,121.79 848.34,121.25 849.51,120.71 850.69,120.18 851.88,119.65 853.06,119.13 854.26,118.61 855.45,118.10 856.65,117.59 857.85,117.08 859.06,116.57 860.27,116.07 861.47,115.57 862.68,115.07 863.90,114.57 865.11,114.07 866.32,113.58 867.54,113.08 868.75,112.58 869.97,112.09 871.18,111.59 872.40,111.10 873.61,110.61 874.83,110.11 876.05,109.62 877.26,109.13 878.48,108.63 879.70,108.14 880.92,107.65 882.14,107.16 883.36,106.67 884.58,106.18 885.80,105.70 887.03,105.21 888.25,104.72 889.47,104.24 890.70,103.75 891.93,103.27 893.16,102.79 894.39,102.31 895.62,101.84 896.86,101.36 898.09,100.89 899.33,100.42 900.57,99.95 901.82,99.48 903.06,99.01 904.31,98.55 905.56,98.09 906.81,97.63 908.06,97.17 909.31,96.72 910.57,96.26 911.83,95.81 913.09,95.36 914.35,94.91 915.61,94.46 916.87,94.01 918.13,93.57 919.40,93.12 920.66,92.67 921.93,92.23 923.19,91.78 924.46,91.34 925.72,90.90 926.99,90.45 928.26,90.01 929.52,89.56 930.79,89.12 932.05,88.68 933.32,88.23 934.59,87.79 935.85,87.35 937.12,86.90 938.39,86.46 939.65,86.02 940.92,85.57 942.19,85.13 943.45,84.69 944.72,84.24 945.99,83.80 947.26,83.36 948.52,82.92 949.79,82.47 951.06,82.03 952.33,81.59 953.60,81.16 954.88,80.72 956.15,80.28 957.42,79.85 958.70,79.41 959.98,78.98 961.26,78.55 962.54,78.12 963.82,77.69 965.11,77.27 966.40,76.85 967.69,76.43 968.98,76.01 970.28,75.60 971.58,75.19 972.88,74.78 974.19,74.38 975.50,73.98 976.81,73.58 978.13,73.19 979.46,72.81 980.79,72.43 982.12,72.05 983.46,71.68 984.81,71.32 986.16,70.96 987.52,70.61 988.88,70.26 990.25,69.92 991.62,69.58 993.00,69.25 994.38,68.92 995.77,68.60 997.15,68.27 998.55,67.96 999.94,67.64 1001.34,67.33 1002.74,67.02 1004.14,66.71 1005.54,66.41 1006.95,66.10 1008.35,65.79 1009.76,65.49 1011.16,65.18 1012.57,64.88 1014.20,64.80" fill="none" stroke="#00f000" stroke-width="1.5" stroke-linejoin="round"/>
<polyline points="732.30,294.20 732.48,292.67 733.28,291.76 734.09,290.86 734.90,289.96 735.71,289.06 736.52,288.16 737.33,287.26 738.14,286.36 738.96,285.47 739.77,284.57 740.59,283.68 741.41,282.79 742.24,281.91 743.07,281.02 743.89,280.14 744.73,279.27 745.56,278.39 746.40,277.52 747.24,276.65 748.09,275.79 748.94,274.93 749.79,274.07 750.65,273.22 751.51,272.36 752.37,271.52 753.23,270.67 754.10,269.83 754.97,268.99 755.85,268.16 756.73,267.33 757.61,266.50 758.49,265.67 759.37,264.84 760.26,264.02 761.15,263.20 762.04,262.38 762.93,261.56 763.82,260.74 764.72,259.93 765.62,259.11 766.51,258.30 767.41,257.49 768.32,256.68 769.22,255.88 770.12,255.07 771.03,254.26 771.93,253.46 772.84,252.66 773.75,251.86 774.66,251.06 775.57,250.26 776.48,249.46 777.40,248.67 778.31,247.87 779.23,247.08 780.15,246.28 781.07,245.49 781.99,244.70 782.91,243.92 783.83,243.13 784.76,242.35 785.68,241.56 786.61,240.78 787.54,240.00 788.47,239.22 789.41,238.44 790.34,237.67 791.28,236.90 792.22,236.12 793.15,235.35 794.10,234.58 795.04,233.81 795.98,233.05 796.92,232.28 797.87,231.52 798.81,230.75 799.76,229.99 800.71,229.23 801.66,228.46 802.60,227.70 803.55,226.94 804.50,226.18 805.45,225.42 806.40,224.66 807.35,223.90 808.31,223.14 809.26,222.38 810.21,221.63 811.16,220.87 812.11,220.11 813.06,219.35 814.02,218.59 814.97,217.84 815.92,217.08 816.87,216.32 817.82,215.56 818.78,214.80 819.73,214.04 820.68,213.28 821.63,212.52 822.58,211.76 823.53,211.00 824.47,210.24 825.42,209.48 826.36,208.71 827.31,207.94 828.25,207.18 829.19,206.41 830.13,205.64 831.07,204.86 832.00,204.09 832.93,203.31 833.86,202.53 834.78,201.74 835.71,200.95 836.62,200.16 837.54,199.37 838.45,198.57 839.36,197.76 840.26,196.96 841.16,196.15 842.06,195.34 842.95,194.52 843.84,193.70 844.73,192.88 845.62,192.05 846.50,191.23 847.39,190.40 848.27,189.58 849.15,188.75 850.04,187.92 850.92,187.09 851.80,186.27 852.69,185.45 853.58,184.62 854.47,183.81 855.36,182.99 856.26,182.18 857.16,181.37 858.07,180.56 858.98,179.76 859.89,178.97 860.81,178.18 861.73,177.39 862.66,176.61 863.59,175.83 864.53,175.05 865.46,174.28 866.41,173.51 867.35,172.75 868.30,171.99 869.25,171.23 870.21,170.47 871.16,169.72 872.12,168.97 873.08,168.22 874.04,167.47 875.01,166.72 875.97,165.98 876.94,165.24 877.91,164.49 878.88,163.75 879.85,163.01 880.82,162.27 881.79,161.53 882.76,160.80 883.73,160.06 884.70,159.32 885.68,158.58 886.65,157.84 887.62,157.10 888.59,156.36 889.56,155.62 890.53,154.88 891.49,154.14 892.46,153.39 893.42,152.65 894.39,151.90 895.35,151.15 896.30,150.40 897.26,149.64 898.21,148.89 899.16,148.13 900.11,147.37 901.06,146.60 902.00,145.83 902.94,145.06 903.88,144.29 904.82,143.52 905.75,142.75 906.69,141.97 907.63,141.20 908.56,140.43 909.50,139.65 910.44,138.88 911.38,138.11 912.32,137.35 913.27,136.58 914.22,135.82 915.18,135.07 916.13,134.32 917.10,133.57 918.06,132.83 919.04,132.09 920.01,131.36 921.00,130.63 921.98,129.90 922.97,129.18 923.97,128.47 924.97,127.76 925.97,127.05 926.97,126.35 927.98,125.64 928.99,124.95 930.01,124.25 931.02,123.56 932.04,122.86 933.06,122.17 934.08,121.49 935.11,120.80 936.13,120.11 937.16,119.43 938.18,118.74 939.21,118.06 940.23,117.37 941.26,116.69 942.28,116.01 943.31,115.32 944.33,114.64 945.36,113.95 946.38,113.26 947.40,112.58 948.43,111.89 949.45,111.20 950.47,110.51 951.48,109.82 952.50,109.12 953.51,108.43 954.53,107.73 955.54,107.03 956.55,106.33 957.56,105.63 958.56,104.92 959.57,104.22 960.57,103.51 961.57,102.80 962.57,102.09 963.57,101.38 964.56,100.66 965.56,99.95 966.55,99.23 967.54,98.52 968.54,97.80 969.53,97.08 970.52,96.36 971.51,95.64 972.49,94.92 973.48,94.19 974.47,93.47 975.46,92.75 976.45,92.03 977.44,91.31 978.42,90.58 979.41,89.86 980.40,89.14 981.39,88.42 982.38,87.70 983.37,86.98 984.36,86.26 985.35,85.54 986.34,84.82 987.33,84.10 988.32,83.38 989.31,82.66 990.30,81.94 991.29,81.23 992.29,80.51 993.28,79.79 994.28,79.08 995.27,78.36 996.26,77.64 997.26,76.93 998.25,76.21 999.25,75.50 1000.24,74.79 1001.24,74.07 1002.24,73.36 1003.23,72.64 1004.23,71.93 1005.22,71.22 1006.22,70.50 1007.22,69.79 1008.21,69.07 1009.21,68.36 1010.21,67.65 1011.20,66.93 1012.20,66.22 1013.20,65.51 1014.20,64.80" fill="none" stroke="#ff0000" stroke-width="1.5" stroke-linejoin="round"/>
<polyline points="732.30,294.20 732.30,292.48 733.07,291.55 733.85,290.62 734.64,289.70 735.42,288.77 736.21,287.85 736.99,286.92 737.78,286.00 738.57,285.08 739.37,284.17 740.17,283.25 740.97,282.34 741.77,281.44 742.57,280.53 743.38,279.63 744.20,278.74 745.01,277.84 745.83,276.95 746.66,276.07 747.48,275.18 748.31,274.30 749.15,273.43 749.99,272.56 750.83,271.69 751.67,270.82 752.52,269.96 753.37,269.10 754.23,268.25 755.08,267.39 755.94,266.54 756.80,265.69 757.66,264.84 758.53,264.00 759.39,263.15 760.26,262.31 761.12,261.46 761.99,260.62 762.86,259.77 763.72,258.93 764.59,258.09 765.45,257.24 766.32,256.40 767.19,255.56 768.05,254.71 768.92,253.87 769.78,253.02 770.65,252.18 771.52,251.33 772.38,250.49 773.25,249.65 774.12,248.81 774.99,247.97 775.87,247.14 776.75,246.30 777.63,245.47 778.51,244.65 779.40,243.83 780.29,243.01 781.18,242.19 782.08,241.38 782.99,240.58 783.90,239.78 784.81,238.98 785.73,238.19 786.65,237.40 787.58,236.62 788.51,235.84 789.45,235.06 790.38,234.29 791.33,233.53 792.27,232.76 793.22,232.00 794.17,231.24 795.13,230.49 796.09,229.73 797.05,228.98 798.01,228.24 798.97,227.49 799.94,226.74 800.90,226.00 801.87,225.26 802.84,224.52 803.81,223.78 804.78,223.04 805.75,222.30 806.72,221.56 807.69,220.82 808.66,220.08 809.63,219.34 810.61,218.60 811.58,217.87 812.55,217.13 813.52,216.39 814.49,215.65 815.46,214.91 816.43,214.17 817.40,213.42 818.37,212.68 819.33,211.94 820.30,211.19 821.26,210.45 822.22,209.70 823.18,208.95 824.14,208.19 825.09,207.44 826.04,206.68 826.99,205.92 827.94,205.15 828.88,204.39 829.82,203.61 830.75,202.84 831.69,202.06 832.61,201.28 833.54,200.49 834.45,199.70 835.37,198.90 836.28,198.10 837.18,197.30 838.09,196.49 838.98,195.68 839.88,194.86 840.77,194.04 841.65,193.22 842.54,192.39 843.42,191.57 844.30,190.73 845.18,189.90 846.05,189.07 846.93,188.24 847.81,187.40 848.68,186.57 849.56,185.74 850.44,184.91 851.33,184.08 852.21,183.26 853.10,182.44 853.99,181.62 854.89,180.81 855.79,180.00 856.70,179.19 857.61,178.39 858.53,177.60 859.45,176.81 860.37,176.03 861.30,175.25 862.24,174.47 863.18,173.70 864.12,172.93 865.07,172.17 866.02,171.41 866.97,170.65 867.93,169.90 868.89,169.15 869.85,168.40 870.81,167.66 871.78,166.91 872.74,166.17 873.71,165.43 874.68,164.69 875.66,163.95 876.63,163.21 877.60,162.48 878.57,161.74 879.55,161.00 880.52,160.27 881.50,159.53 882.47,158.80 883.45,158.06 884.42,157.33 885.40,156.59 886.37,155.85 887.34,155.12 888.31,154.38 889.28,153.64 890.25,152.90 891.22,152.16 892.19,151.41 893.15,150.67 894.11,149.92 895.07,149.17 896.03,148.42 896.99,147.66 897.94,146.91 898.89,146.15 899.84,145.39 900.79,144.62 901.73,143.86 902.68,143.09 903.62,142.32 904.56,141.55 905.50,140.78 906.44,140.01 907.37,139.24 908.31,138.47 909.26,137.70 910.20,136.93 911.14,136.17 912.09,135.40 913.04,134.64 914.00,133.89 914.95,133.14 915.92,132.39 916.88,131.65 917.85,130.91 918.83,130.17 919.81,129.44 920.80,128.72 921.79,128.00 922.78,127.28 923.78,126.57 924.78,125.86 925.79,125.16 926.79,124.46 927.81,123.76 928.82,123.06 929.84,122.37 930.86,121.68 931.88,120.99 932.90,120.31 933.93,119.62 934.95,118.94 935.98,118.25 937.01,117.57 938.04,116.89 939.07,116.21 940.10,115.53 941.13,114.85 942.15,114.17 943.18,113.49 944.21,112.80 945.24,112.12 946.27,111.44 947.29,110.76 948.32,110.07 949.34,109.39 950.37,108.70 951.39,108.01 952.41,107.32 953.43,106.63 954.45,105.94 955.46,105.25 956.48,104.55 957.49,103.85 958.50,103.16 959.51,102.46 960.52,101.75 961.53,101.05 962.54,100.35 963.54,99.64 964.55,98.94 965.55,98.23 966.55,97.52 967.55,96.81 968.55,96.10 969.55,95.39 970.55,94.68 971.55,93.97 972.55,93.26 973.55,92.55 974.55,91.84 975.55,91.13 976.55,90.42 977.55,89.71 978.55,89.00 979.55,88.29 980.55,87.58 981.56,86.88 982.56,86.17 983.57,85.47 984.57,84.77 985.58,84.06 986.59,83.36 987.60,82.67 988.62,81.97 989.63,81.27 990.65,80.58 991.66,79.88 992.68,79.19 993.70,78.50 994.72,77.81 995.74,77.12 996.76,76.43 997.78,75.74 998.80,75.05 999.83,74.37 1000.85,73.68 1001.87,72.99 1002.90,72.31 1003.92,71.62 1004.95,70.94 1005.97,70.25 1007.00,69.57 1008.03,68.89 1009.05,68.20 1010.08,67.52 1011.10,66.83 1012.13,66.15 1013.15,65.46 1014.20,64.80" fill="none" stroke="#bf00bf" stroke-width="1.5" stroke-linejoin="round"/>
<polyline points="732.30,294.20 732.30,291.33 732.30,290.29 732.47,289.24 733.14,288.20 733.82,287.17 734.50,286.14 735.18,285.11 735.87,284.09 736.57,283.08 737.27,282.07 737.98,281.07 738.71,280.09 739.44,279.11 740.18,278.14 740.92,277.17 741.68,276.22 742.44,275.27 743.21,274.33 743.99,273.40 744.77,272.47 745.56,271.55 746.35,270.63 747.15,269.72 747.96,268.81 748.76,267.91 749.57,267.01 750.38,266.11 751.20,265.22 752.01,264.32 752.83,263.43 753.65,262.54 754.47,261.65 755.29,260.76 756.12,259.88 756.94,258.99 757.76,258.10 758.59,257.22 759.41,256.33 760.24,255.45 761.06,254.56 761.89,253.68 762.71,252.79 763.54,251.91 764.37,251.03 765.19,250.14 766.02,249.26 766.85,248.38 767.68,247.50 768.51,246.62 769.34,245.74 770.17,244.86 771.00,243.98 771.84,243.10 772.67,242.23 773.51,241.36 774.35,240.48 775.19,239.62 776.03,238.75 776.88,237.88 777.72,237.02 778.57,236.16 779.43,235.30 780.28,234.45 781.14,233.60 782.00,232.75 782.87,231.90 783.73,231.06 784.60,230.22 785.48,229.38 786.35,228.55 787.23,227.72 788.11,226.89 788.99,226.06 789.88,225.24 790.77,224.42 791.66,223.60 792.55,222.78 793.45,221.96 794.34,221.15 795.24,220.34 796.14,219.53 797.04,218.72 797.94,217.91 798.84,217.10 799.75,216.30 800.65,215.49 801.56,214.69 802.47,213.88 803.38,213.08 804.28,212.28 805.19,211.48 806.10,210.68 807.02,209.88 807.93,209.09 808.84,208.29 809.76,207.49 810.67,206.70 811.59,205.90 812.50,205.11 813.42,204.32 814.34,203.53 815.26,202.74 816.18,201.95 817.10,201.16 818.02,200.37 818.95,199.58 819.87,198.80 820.80,198.01 821.72,197.23 822.65,196.44 823.57,195.66 824.50,194.88 825.43,194.09 826.35,193.31 827.28,192.53 828.21,191.74 829.14,190.96 830.06,190.18 830.99,189.40 831.92,188.61 832.85,187.83 833.77,187.05 834.70,186.27 835.63,185.49 836.56,184.71 837.49,183.93 838.42,183.15 839.35,182.37 840.28,181.59 841.22,180.81 842.15,180.04 843.09,179.26 844.03,178.49 844.97,177.72 845.91,176.95 846.85,176.19 847.80,175.42 848.75,174.66 849.70,173.90 850.65,173.15 851.61,172.40 852.57,171.64 853.53,170.90 854.50,170.15 855.47,169.41 856.44,168.67 857.41,167.93 858.39,167.20 859.36,166.47 860.35,165.74 861.33,165.02 862.32,164.29 863.31,163.57 864.30,162.85 865.29,162.14 866.29,161.42 867.29,160.71 868.29,160.01 869.30,159.30 870.31,158.60 871.32,157.90 872.33,157.21 873.35,156.51 874.37,155.82 875.39,155.13 876.41,154.45 877.44,153.76 878.47,153.08 879.50,152.40 880.53,151.72 881.56,151.04 882.59,150.37 883.63,149.69 884.66,149.01 885.69,148.34 886.73,147.66 887.76,146.98 888.79,146.31 889.82,145.63 890.85,144.94 891.88,144.26 892.90,143.57 893.92,142.88 894.94,142.19 895.95,141.50 896.96,140.80 897.97,140.09 898.97,139.39 899.97,138.67 900.96,137.96 901.95,137.24 902.94,136.51 903.92,135.78 904.90,135.05 905.87,134.32 906.84,133.58 907.81,132.84 908.78,132.09 909.74,131.35 910.70,130.60 911.66,129.85 912.62,129.10 913.58,128.35 914.54,127.59 915.50,126.84 916.46,126.09 917.42,125.34 918.38,124.59 919.34,123.84 920.30,123.10 921.27,122.35 922.23,121.60 923.20,120.86 924.16,120.12 925.13,119.37 926.10,118.63 927.07,117.89 928.04,117.15 929.01,116.41 929.98,115.68 930.96,114.94 931.93,114.21 932.91,113.47 933.88,112.74 934.86,112.00 935.84,111.27 936.81,110.54 937.79,109.81 938.77,109.08 939.75,108.35 940.74,107.62 941.72,106.89 942.70,106.16 943.69,105.44 944.67,104.72 945.66,103.99 946.65,103.27 947.64,102.56 948.64,101.84 949.64,101.13 950.64,100.42 951.64,99.71 952.64,99.01 953.65,98.31 954.67,97.61 955.68,96.91 956.70,96.23 957.73,95.54 958.76,94.86 959.79,94.18 960.83,93.51 961.87,92.84 962.92,92.18 963.97,91.52 965.02,90.86 966.08,90.21 967.14,89.56 968.20,88.91 969.27,88.27 970.34,87.63 971.42,87.00 972.49,86.36 973.57,85.73 974.66,85.11 975.74,84.48 976.83,83.86 977.92,83.24 979.02,82.63 980.12,82.02 981.22,81.41 982.32,80.80 983.43,80.20 984.54,79.60 985.65,79.00 986.77,78.41 987.89,77.82 989.01,77.23 990.14,76.65 991.27,76.07 992.40,75.49 993.53,74.91 994.67,74.34 995.81,73.77 996.95,73.20 998.09,72.63 999.23,72.06 1000.37,71.49 1001.52,70.93 1002.66,70.36 1003.81,69.80 1004.96,69.24 1006.10,68.67 1007.25,68.11 1008.40,67.55 1009.55,66.99 1010.70,66.43 1011.85,65.87 1012.99,65.30 1014.20,64.80" fill="none" stroke="#000000" stroke-width="1.5" stroke-linejoin="round"/>
<polyline points="732.30,294.20 732.34,292.53 732.38,290.86 732.42,289.19 732.46,287.52 732.50,285.85 732.53,284.17 732.57,282.50 732.61,280.83 732.65,279.16 732.69,277.49 732.73,275.82 732.77,274.15 732.81,272.48 732.85,270.81 732.90,269.15 732.94,267.48 732.99,265.82 733.04,264.16 733.09,262.50 733.15,260.85 733.21,259.20 733.27,257.55 733.34,255.91 733.41,254.27 733.49,252.64 733.58,251.02 733.68,249.41 733.78,247.80 733.89,246.20 734.02,244.61 734.15,243.04 734.29,241.47 734.45,239.92 734.62,238.38 734.81,236.85 735.00,235.34 735.22,233.85 735.45,232.37 735.69,230.90 735.96,229.45 736.24,228.03 736.54,226.61 736.85,225.22 737.19,223.85 737.54,222.49 737.91,221.15 738.31,219.83 738.71,218.53 739.14,217.25 739.58,215.98 740.04,214.73 740.52,213.50 741.01,212.28 741.53,211.08 742.05,209.90 742.60,208.74 743.16,207.59 743.74,206.46 744.33,205.34 744.95,204.24 745.57,203.16 746.22,202.10 746.88,201.04 747.55,200.01 748.24,198.99 748.94,197.98 749.66,196.98 750.38,196.00 751.12,195.03 751.87,194.07 752.62,193.11 753.39,192.17 754.17,191.23 754.95,190.30 755.74,189.38 756.53,188.47 757.33,187.56 758.14,186.66 758.95,185.76 759.77,184.87 760.59,183.98 761.42,183.10 762.25,182.22 763.09,181.35 763.93,180.48 764.78,179.61 765.63,178.75 766.48,177.90 767.34,177.05 768.21,176.20 769.07,175.36 769.95,174.52 770.82,173.69 771.70,172.86 772.59,172.04 773.48,171.21 774.37,170.40 775.27,169.58 776.17,168.78 777.08,167.97 777.99,167.18 778.91,166.38 779.83,165.60 780.76,164.82 781.69,164.04 782.64,163.27 783.59,162.51 784.54,161.76 785.51,161.02 786.48,160.28 787.46,159.55 788.46,158.83 789.46,158.12 790.46,157.42 791.48,156.73 792.51,156.04 793.54,155.37 794.58,154.70 795.63,154.04 796.69,153.38 797.75,152.74 798.82,152.09 799.89,151.46 800.97,150.82 802.05,150.19 803.13,149.57 804.22,148.94 805.30,148.32 806.39,147.70 807.48,147.08 808.58,146.46 809.67,145.84 810.76,145.23 811.85,144.61 812.94,143.99 814.04,143.37 815.12,142.75 816.21,142.13 817.30,141.51 818.39,140.88 819.47,140.26 820.55,139.63 821.64,139.00 822.72,138.37 823.80,137.75 824.88,137.12 825.96,136.49 827.04,135.86 828.12,135.23 829.21,134.60 830.29,133.97 831.37,133.35 832.46,132.73 833.55,132.11 834.64,131.49 835.74,130.87 836.84,130.26 837.94,129.66 839.05,129.06 840.17,128.46 841.29,127.87 842.41,127.29 843.55,126.71 844.68,126.14 845.83,125.57 846.98,125.01 848.14,124.46 849.30,123.92 850.47,123.38 851.65,122.84 852.83,122.31 854.01,121.79 855.20,121.27 856.40,120.75 857.60,120.24 858.80,119.74 860.01,119.23 861.22,118.73 862.43,118.23 863.65,117.74 864.86,117.25 866.08,116.76 867.30,116.27 868.53,115.78 869.75,115.30 870.98,114.81 872.20,114.33 873.43,113.85 874.66,113.37 875.89,112.89 877.12,112.41 878.36,111.93 879.59,111.45 880.82,110.98 882.06,110.50 883.29,110.03 884.53,109.55 885.77,109.08 887.00,108.61 888.24,108.13 889.48,107.66 890.72,107.19 891.96,106.72 893.20,106.25 894.44,105.78 895.68,105.31 896.92,104.84 898.16,104.37 899.40,103.91 900.65,103.44 901.89,102.97 903.14,102.51 904.38,102.04 905.63,101.58 906.87,101.11 908.12,100.65 909.37,100.19 910.61,99.73 911.86,99.26 913.11,98.80 914.36,98.34 915.61,97.88 916.86,97.42 918.11,96.96 919.36,96.50 920.61,96.04 921.86,95.58 923.11,95.12 924.36,94.66 925.61,94.20 926.86,93.74 928.11,93.28 929.36,92.82 930.61,92.36 931.86,91.90 933.11,91.44 934.35,90.98 935.60,90.51 936.85,90.05 938.09,89.58 939.34,89.12 940.58,88.65 941.82,88.18 943.06,87.71 944.29,87.24 945.53,86.76 946.76,86.28 947.99,85.80 949.22,85.32 950.44,84.84 951.67,84.35 952.88,83.86 954.10,83.36 955.31,82.86 956.52,82.36 957.73,81.86 958.93,81.35 960.13,80.84 961.33,80.33 962.52,79.81 963.72,79.30 964.91,78.78 966.10,78.26 967.29,77.74 968.48,77.22 969.67,76.70 970.87,76.19 972.06,75.67 973.26,75.16 974.46,74.65 975.67,74.15 976.88,73.65 978.09,73.16 979.32,72.67 980.55,72.19 981.79,71.72 983.04,71.26 984.30,70.81 985.57,70.37 986.86,69.95 988.15,69.53 989.46,69.13 990.78,68.74 992.11,68.36 993.46,68.00 994.82,67.65 996.19,67.31 997.57,66.98 998.96,66.66 1000.36,66.35 1001.77,66.05 1003.18,65.75 1004.60,65.46 1006.03,65.18 1007.46,64.90 1008.89,64.80 1010.32,64.80 1011.75,64.80 1014.20,64.80" fill="none" stroke="#0000ff" stroke-width="3.1" stroke-dasharray="3.1 2.6"/>
<polyline points="732.30,294.20 732.35,292.54 732.39,290.87 732.43,289.20 732.46,287.52 732.50,285.85 732.54,284.18 732.58,282.51 732.62,280.84 732.66,279.17 732.70,277.50 732.73,275.82 732.77,274.15 732.81,272.48 732.86,270.82 732.90,269.15 732.94,267.48 732.99,265.82 733.04,264.16 733.09,262.50 733.14,260.84 733.20,259.19 733.26,257.54 733.32,255.89 733.39,254.25 733.47,252.62 733.55,250.99 733.64,249.37 733.74,247.76 733.85,246.16 733.97,244.57 734.09,242.98 734.23,241.41 734.38,239.85 734.55,238.31 734.72,236.77 734.92,235.25 735.12,233.75 735.34,232.26 735.58,230.79 735.84,229.34 736.11,227.90 736.40,226.48 736.71,225.08 737.04,223.70 737.38,222.33 737.74,220.98 738.12,219.65 738.52,218.34 738.93,217.04 739.36,215.76 739.81,214.50 740.27,213.25 740.75,212.02 741.25,210.80 741.76,209.61 742.28,208.42 742.83,207.25 743.39,206.10 743.96,204.97 744.55,203.85 745.16,202.75 745.78,201.66 746.42,200.59 747.07,199.53 747.74,198.49 748.42,197.46 749.12,196.45 749.83,195.44 750.54,194.45 751.27,193.47 752.02,192.50 752.76,191.54 753.52,190.59 754.29,189.65 755.07,188.71 755.85,187.78 756.64,186.86 757.43,185.95 758.23,185.04 759.04,184.14 759.85,183.24 760.67,182.35 761.50,181.47 762.33,180.59 763.16,179.71 764.00,178.84 764.85,177.98 765.70,177.12 766.55,176.26 767.41,175.41 768.28,174.56 769.14,173.72 770.02,172.88 770.89,172.05 771.77,171.22 772.66,170.39 773.54,169.57 774.44,168.75 775.33,167.94 776.23,167.13 777.14,166.32 778.05,165.52 778.96,164.73 779.88,163.94 780.81,163.15 781.74,162.37 782.67,161.60 783.62,160.83 784.57,160.07 785.52,159.32 786.49,158.57 787.46,157.83 788.44,157.10 789.42,156.38 790.41,155.66 791.41,154.95 792.42,154.25 793.43,153.55 794.45,152.86 795.48,152.17 796.51,151.49 797.54,150.82 798.58,150.15 799.63,149.49 800.68,148.82 801.73,148.17 802.79,147.51 803.85,146.86 804.91,146.22 805.98,145.57 807.05,144.93 808.12,144.29 809.19,143.65 810.26,143.02 811.34,142.39 812.42,141.75 813.50,141.12 814.57,140.49 815.65,139.86 816.74,139.23 817.82,138.60 818.90,137.97 819.98,137.35 821.07,136.72 822.15,136.09 823.23,135.47 824.32,134.84 825.41,134.22 826.49,133.60 827.58,132.98 828.67,132.36 829.77,131.74 830.86,131.13 831.96,130.51 833.06,129.90 834.16,129.30 835.27,128.70 836.38,128.10 837.50,127.50 838.62,126.91 839.75,126.33 840.88,125.75 842.01,125.18 843.16,124.61 844.31,124.05 845.46,123.49 846.62,122.95 847.79,122.40 848.96,121.87 850.14,121.33 851.32,120.81 852.51,120.28 853.70,119.77 854.90,119.25 856.10,118.74 857.30,118.23 858.50,117.73 859.71,117.22 860.92,116.72 862.13,116.22 863.34,115.72 864.55,115.22 865.76,114.73 866.98,114.23 868.19,113.74 869.41,113.24 870.62,112.75 871.84,112.25 873.05,111.76 874.27,111.26 875.49,110.77 876.70,110.28 877.92,109.78 879.14,109.29 880.36,108.80 881.58,108.31 882.80,107.82 884.02,107.33 885.24,106.84 886.46,106.35 887.68,105.87 888.91,105.38 890.13,104.90 891.36,104.41 892.59,103.93 893.82,103.45 895.05,102.97 896.28,102.49 897.52,102.02 898.75,101.54 899.99,101.07 901.23,100.60 902.47,100.13 903.72,99.67 904.96,99.20 906.21,98.74 907.46,98.28 908.71,97.82 909.96,97.36 911.22,96.91 912.47,96.45 913.73,96.00 914.98,95.55 916.24,95.09 917.50,94.64 918.76,94.19 920.02,93.74 921.28,93.30 922.54,92.85 923.81,92.40 925.07,91.95 926.33,91.50 927.59,91.06 928.86,90.61 930.12,90.16 931.38,89.71 932.64,89.27 933.91,88.82 935.17,88.37 936.43,87.93 937.70,87.48 938.96,87.03 940.22,86.58 941.48,86.14 942.75,85.69 944.01,85.24 945.27,84.79 946.54,84.35 947.80,83.90 949.06,83.46 950.33,83.01 951.59,82.57 952.86,82.12 954.13,81.68 955.39,81.23 956.66,80.79 957.93,80.35 959.20,79.91 960.47,79.48 961.75,79.04 963.02,78.61 964.30,78.17 965.58,77.74 966.86,77.31 968.15,76.89 969.43,76.46 970.72,76.04 972.01,75.62 973.31,75.21 974.61,74.80 975.91,74.39 977.22,73.99 978.53,73.59 979.84,73.19 981.16,72.80 982.49,72.42 983.82,72.04 985.15,71.66 986.49,71.29 987.84,70.93 989.19,70.57 990.54,70.21 991.90,69.86 993.26,69.51 994.63,69.17 996.00,68.83 997.38,68.50 998.75,68.16 1000.13,67.83 1001.51,67.51 1002.90,67.18 1004.28,66.85 1005.67,66.53 1007.06,66.21 1008.45,65.89 1009.83,65.56 1011.22,65.24 1012.61,64.92 1014.20,64.80" fill="none" stroke="#008000" stroke-width="3.1" stroke-dasharray="3.1 2.6"/>
<polyline points="732.30,294.20 732.35,292.54 732.38,290.86 732.40,289.17 732.43,287.49 732.46,285.81 732.49,284.13 732.52,282.45 732.55,280.77 732.58,279.09 732.60,277.40 732.63,275.72 732.66,274.04 732.69,272.36 732.72,270.68 732.76,269.01 732.79,267.33 732.82,265.65 732.86,263.98 732.90,262.31 732.94,260.64 732.98,258.97 733.03,257.31 733.08,255.65 733.14,254.00 733.20,252.35 733.27,250.71 733.35,249.08 733.43,247.45 733.52,245.83 733.62,244.22 733.73,242.62 733.85,241.03 733.98,239.45 734.13,237.89 734.28,236.33 734.45,234.79 734.64,233.27 734.84,231.76 735.06,230.27 735.29,228.79 735.55,227.33 735.81,225.89 736.10,224.47 736.41,223.07 736.73,221.68 737.07,220.31 737.43,218.96 737.81,217.62 738.20,216.31 738.61,215.01 739.04,213.72 739.48,212.46 739.94,211.21 740.42,209.98 740.91,208.76 741.42,207.56 741.95,206.38 742.49,205.21 743.05,204.06 743.62,202.92 744.21,201.80 744.82,200.70 745.44,199.61 746.07,198.53 746.72,197.47 747.38,196.42 748.05,195.38 748.73,194.35 749.42,193.33 750.13,192.32 750.84,191.33 751.56,190.34 752.29,189.35 753.02,188.38 753.77,187.42 754.52,186.46 755.28,185.51 756.05,184.56 756.82,183.63 757.60,182.70 758.39,181.78 759.19,180.87 759.99,179.96 760.81,179.06 761.63,178.18 762.46,177.29 763.29,176.42 764.14,175.56 764.99,174.70 765.85,173.85 766.72,173.01 767.59,172.17 768.48,171.34 769.37,170.52 770.26,169.71 771.16,168.90 772.07,168.10 772.99,167.31 773.91,166.52 774.84,165.74 775.77,164.96 776.72,164.19 777.67,163.43 778.62,162.68 779.59,161.93 780.56,161.19 781.54,160.46 782.53,159.74 783.52,159.03 784.53,158.32 785.54,157.63 786.56,156.94 787.59,156.26 788.63,155.59 789.68,154.93 790.74,154.27 791.80,153.63 792.87,152.99 793.95,152.35 795.03,151.73 796.12,151.10 797.21,150.49 798.31,149.87 799.41,149.26 800.51,148.66 801.62,148.06 802.73,147.45 803.84,146.86 804.95,146.26 806.07,145.66 807.18,145.07 808.30,144.47 809.41,143.88 810.53,143.28 811.64,142.69 812.76,142.09 813.87,141.50 814.98,140.90 816.10,140.30 817.21,139.70 818.32,139.10 819.43,138.50 820.54,137.90 821.65,137.30 822.76,136.70 823.87,136.10 824.98,135.50 826.08,134.90 827.20,134.30 828.31,133.70 829.42,133.10 830.53,132.51 831.65,131.91 832.77,131.32 833.89,130.73 835.01,130.14 836.14,129.56 837.26,128.98 838.40,128.40 839.54,127.83 840.68,127.26 841.83,126.70 842.98,126.14 844.14,125.59 845.30,125.04 846.47,124.50 847.64,123.96 848.82,123.43 850.00,122.90 851.19,122.38 852.38,121.86 853.58,121.35 854.78,120.84 855.98,120.34 857.19,119.83 858.40,119.33 859.61,118.84 860.83,118.34 862.05,117.85 863.27,117.36 864.49,116.87 865.71,116.38 866.93,115.90 868.16,115.41 869.39,114.93 870.61,114.45 871.84,113.96 873.07,113.48 874.30,113.00 875.53,112.52 876.76,112.04 877.99,111.56 879.22,111.08 880.45,110.60 881.68,110.12 882.91,109.64 884.14,109.16 885.37,108.68 886.60,108.21 887.84,107.73 889.07,107.25 890.30,106.77 891.54,106.30 892.77,105.82 894.00,105.35 895.24,104.87 896.48,104.40 897.71,103.93 898.95,103.46 900.19,102.99 901.43,102.52 902.67,102.05 903.92,101.58 905.16,101.11 906.41,100.65 907.65,100.18 908.90,99.72 910.15,99.26 911.39,98.80 912.64,98.34 913.89,97.88 915.14,97.42 916.39,96.96 917.65,96.50 918.90,96.04 920.15,95.58 921.40,95.13 922.66,94.67 923.91,94.21 925.17,93.76 926.42,93.30 927.67,92.85 928.93,92.39 930.18,91.93 931.43,91.48 932.69,91.02 933.94,90.56 935.19,90.10 936.44,89.64 937.69,89.18 938.94,88.72 940.18,88.26 941.43,87.79 942.67,87.33 943.92,86.86 945.16,86.39 946.39,85.92 947.63,85.44 948.86,84.97 950.10,84.49 951.32,84.01 952.55,83.52 953.77,83.03 954.99,82.54 956.21,82.05 957.42,81.56 958.64,81.06 959.85,80.56 961.05,80.05 962.26,79.55 963.46,79.04 964.66,78.53 965.86,78.03 967.06,77.52 968.27,77.01 969.47,76.50 970.67,75.99 971.88,75.49 973.09,74.99 974.30,74.49 975.51,74.00 976.74,73.51 977.96,73.02 979.20,72.55 980.44,72.08 981.69,71.62 982.95,71.17 984.22,70.73 985.50,70.30 986.79,69.88 988.09,69.47 989.41,69.08 990.74,68.70 992.08,68.33 993.43,67.97 994.79,67.62 996.17,67.29 997.55,66.97 998.95,66.65 1000.36,66.35 1001.77,66.05 1003.19,65.76 1004.61,65.47 1006.04,65.19 1007.47,64.91 1008.91,64.80 1010.34,64.80 1011.78,64.80 1014.20,64.80" fill="none" stroke="#ff0000" stroke-width="3.1" stroke-dasharray="3.1 2.6"/>
<polyline points="732.30,294.20 732.30,292.26 732.30,290.76 732.49,289.26 732.70,287.76 732.91,286.26 733.12,284.76 733.34,283.27 733.56,281.78 733.78,280.29 734.00,278.80 734.23,277.32 734.47,275.85 734.71,274.38 734.96,272.92 735.22,271.47 735.49,270.03 735.77,268.60 736.06,267.18 736.37,265.78 736.68,264.38 737.01,263.00 737.36,261.64 737.72,260.29 738.10,258.95 738.49,257.64 738.90,256.34 739.32,255.05 739.77,253.79 740.23,252.54 740.70,251.30 741.20,250.09 741.71,248.89 742.23,247.70 742.77,246.53 743.32,245.37 743.89,244.22 744.46,243.09 745.05,241.96 745.64,240.85 746.24,239.74 746.86,238.64 747.47,237.55 748.10,236.47 748.73,235.39 749.37,234.32 750.01,233.25 750.65,232.18 751.31,231.12 751.96,230.07 752.62,229.02 753.28,227.97 753.95,226.93 754.62,225.89 755.30,224.86 755.98,223.83 756.67,222.80 757.36,221.78 758.05,220.77 758.76,219.77 759.47,218.77 760.19,217.77 760.91,216.79 761.64,215.81 762.39,214.85 763.14,213.89 763.90,212.94 764.68,212.00 765.46,211.08 766.26,210.16 767.06,209.26 767.88,208.37 768.71,207.49 769.55,206.62 770.41,205.76 771.27,204.91 772.14,204.08 773.02,203.24 773.90,202.42 774.80,201.60 775.69,200.79 776.60,199.99 777.51,199.18 778.42,198.38 779.33,197.59 780.25,196.79 781.16,196.00 782.08,195.21 783.00,194.42 783.93,193.63 784.85,192.84 785.77,192.06 786.69,191.27 787.62,190.48 788.54,189.70 789.46,188.91 790.39,188.12 791.31,187.34 792.24,186.55 793.16,185.77 794.09,184.99 795.02,184.20 795.95,183.42 796.88,182.64 797.81,181.87 798.75,181.09 799.68,180.32 800.62,179.55 801.57,178.78 802.51,178.02 803.46,177.26 804.42,176.50 805.37,175.75 806.33,175.00 807.30,174.25 808.27,173.51 809.24,172.77 810.21,172.04 811.19,171.31 812.17,170.58 813.16,169.85 814.15,169.13 815.14,168.41 816.13,167.69 817.12,166.98 818.12,166.27 819.12,165.56 820.12,164.85 821.12,164.14 822.12,163.43 823.13,162.72 824.13,162.02 825.14,161.31 826.15,160.61 827.15,159.91 828.16,159.21 829.17,158.51 830.18,157.80 831.19,157.10 832.20,156.40 833.21,155.70 834.22,155.01 835.23,154.31 836.25,153.61 837.26,152.91 838.27,152.22 839.29,151.52 840.31,150.83 841.32,150.14 842.34,149.45 843.36,148.76 844.38,148.07 845.41,147.38 846.44,146.70 847.46,146.02 848.50,145.34 849.53,144.67 850.57,143.99 851.61,143.33 852.66,142.66 853.71,142.00 854.76,141.35 855.82,140.70 856.88,140.05 857.95,139.41 859.03,138.77 860.11,138.14 861.19,137.52 862.28,136.90 863.38,136.28 864.48,135.67 865.58,135.07 866.69,134.47 867.81,133.87 868.93,133.28 870.06,132.70 871.19,132.12 872.32,131.55 873.46,130.98 874.61,130.41 875.76,129.85 876.91,129.30 878.07,128.74 879.23,128.19 880.40,127.65 881.56,127.11 882.73,126.57 883.90,126.03 885.08,125.49 886.25,124.95 887.42,124.42 888.59,123.88 889.76,123.34 890.93,122.80 892.10,122.25 893.26,121.70 894.41,121.15 895.57,120.59 896.71,120.03 897.86,119.46 898.99,118.88 900.12,118.30 901.24,117.71 902.36,117.12 903.46,116.52 904.57,115.91 905.66,115.30 906.75,114.68 907.84,114.05 908.92,113.42 910.00,112.79 911.07,112.15 912.14,111.51 913.21,110.87 914.27,110.23 915.34,109.58 916.40,108.94 917.47,108.29 918.54,107.65 919.61,107.01 920.68,106.37 921.75,105.74 922.83,105.10 923.92,104.48 925.00,103.86 926.10,103.24 927.20,102.63 928.30,102.02 929.41,101.43 930.53,100.83 931.66,100.25 932.79,99.67 933.92,99.10 935.07,98.53 936.21,97.97 937.37,97.41 938.53,96.86 939.69,96.31 940.86,95.77 942.03,95.23 943.21,94.70 944.38,94.17 945.57,93.64 946.75,93.11 947.94,92.59 949.13,92.07 950.32,91.56 951.52,91.04 952.72,90.53 953.91,90.02 955.12,89.51 956.32,89.00 957.52,88.49 958.73,87.99 959.93,87.49 961.14,86.98 962.35,86.48 963.56,85.98 964.77,85.48 965.98,84.99 967.20,84.49 968.41,83.99 969.62,83.49 970.84,83.00 972.05,82.50 973.26,82.00 974.48,81.51 975.69,81.01 976.90,80.51 978.11,80.01 979.33,79.52 980.54,79.02 981.75,78.52 982.96,78.02 984.17,77.52 985.38,77.02 986.58,76.51 987.79,76.01 989.00,75.51 990.20,75.00 991.41,74.50 992.61,73.99 993.82,73.49 995.02,72.98 996.22,72.47 997.42,71.96 998.62,71.46 999.83,70.95 1001.03,70.44 1002.23,69.93 1003.43,69.42 1004.63,68.91 1005.83,68.40 1007.03,67.89 1008.23,67.38 1009.43,66.87 1010.62,66.35 1011.82,65.84 1013.02,65.33 1014.20,64.80" fill="none" stroke="#bf00bf" stroke-width="3.5" stroke-dasharray="3.1 2.6"/>
<polyline points="732.30,294.20 732.30,292.08 732.30,290.50 732.30,288.92 732.30,287.34 732.42,285.77 732.55,284.19 732.69,282.62 732.83,281.05 732.97,279.48 733.12,277.92 733.27,276.36 733.43,274.81 733.60,273.27 733.77,271.73 733.95,270.20 734.15,268.68 734.34,267.17 734.55,265.67 734.77,264.18 735.00,262.70 735.24,261.23 735.49,259.77 735.75,258.32 736.03,256.89 736.31,255.46 736.61,254.05 736.92,252.65 737.24,251.26 737.58,249.88 737.92,248.52 738.28,247.17 738.66,245.84 739.05,244.52 739.45,243.21 739.86,241.91 740.28,240.62 740.72,239.35 741.17,238.09 741.63,236.84 742.10,235.60 742.58,234.37 743.07,233.15 743.57,231.93 744.07,230.73 744.59,229.54 745.11,228.35 745.64,227.17 746.18,226.00 746.73,224.83 747.28,223.68 747.83,222.52 748.40,221.37 748.96,220.23 749.54,219.10 750.11,217.96 750.70,216.83 751.28,215.71 751.87,214.59 752.46,213.47 753.06,212.36 753.66,211.25 754.27,210.15 754.88,209.04 755.49,207.95 756.11,206.86 756.73,205.77 757.36,204.69 757.99,203.61 758.63,202.54 759.28,201.48 759.93,200.42 760.59,199.37 761.25,198.32 761.93,197.28 762.60,196.25 763.29,195.22 763.97,194.20 764.67,193.19 765.37,192.17 766.07,191.17 766.78,190.16 767.49,189.16 768.20,188.17 768.92,187.17 769.64,186.18 770.36,185.20 771.09,184.21 771.81,183.23 772.54,182.25 773.28,181.27 774.01,180.30 774.75,179.33 775.49,178.36 776.23,177.39 776.98,176.43 777.73,175.46 778.48,174.51 779.23,173.55 779.99,172.60 780.76,171.65 781.52,170.71 782.30,169.77 783.07,168.84 783.85,167.91 784.64,166.99 785.44,166.07 786.24,165.16 787.04,164.26 787.85,163.36 788.67,162.47 789.50,161.58 790.33,160.70 791.16,159.83 792.00,158.96 792.85,158.10 793.70,157.24 794.56,156.38 795.42,155.53 796.28,154.69 797.15,153.84 798.02,153.00 798.89,152.17 799.77,151.34 800.65,150.51 801.54,149.68 802.42,148.86 803.31,148.04 804.21,147.22 805.10,146.41 806.00,145.60 806.90,144.79 807.81,143.99 808.72,143.18 809.63,142.39 810.55,141.59 811.47,140.81 812.40,140.02 813.32,139.24 814.26,138.46 815.20,137.69 816.14,136.92 817.09,136.16 818.04,135.40 818.99,134.65 819.95,133.90 820.91,133.15 821.88,132.40 822.85,131.67 823.82,130.93 824.80,130.20 825.78,129.47 826.77,128.74 827.75,128.02 828.74,127.30 829.74,126.58 830.74,125.87 831.74,125.16 832.75,124.46 833.76,123.76 834.77,123.07 835.80,122.38 836.82,121.70 837.86,121.02 838.89,120.35 839.94,119.69 840.99,119.03 842.05,118.38 843.12,117.74 844.20,117.10 845.28,116.47 846.37,115.86 847.47,115.25 848.58,114.64 849.69,114.05 850.81,113.46 851.94,112.88 853.08,112.30 854.22,111.73 855.37,111.17 856.52,110.62 857.68,110.06 858.84,109.52 860.01,108.97 861.18,108.44 862.36,107.90 863.54,107.37 864.72,106.85 865.91,106.33 867.10,105.81 868.30,105.29 869.50,104.78 870.70,104.27 871.91,103.77 873.12,103.27 874.33,102.77 875.55,102.28 876.77,101.79 878.00,101.31 879.22,100.83 880.46,100.35 881.69,99.88 882.93,99.41 884.18,98.94 885.42,98.48 886.67,98.02 887.92,97.56 889.18,97.10 890.44,96.65 891.70,96.20 892.96,95.75 894.22,95.30 895.49,94.86 896.75,94.42 898.02,93.98 899.29,93.54 900.57,93.10 901.84,92.66 903.11,92.23 904.39,91.79 905.67,91.36 906.94,90.93 908.22,90.49 909.50,90.06 910.78,89.63 912.06,89.20 913.34,88.77 914.62,88.34 915.90,87.91 917.18,87.48 918.46,87.05 919.74,86.62 921.02,86.19 922.30,85.76 923.58,85.33 924.86,84.90 926.14,84.47 927.42,84.04 928.70,83.61 929.98,83.18 931.26,82.75 932.54,82.32 933.82,81.90 935.11,81.47 936.39,81.04 937.67,80.61 938.95,80.18 940.24,79.76 941.52,79.34 942.81,78.91 944.10,78.49 945.39,78.07 946.68,77.66 947.98,77.24 949.28,76.83 950.58,76.42 951.88,76.01 953.19,75.61 954.50,75.21 955.82,74.82 957.14,74.43 958.46,74.04 959.79,73.66 961.13,73.29 962.46,72.92 963.81,72.55 965.15,72.19 966.51,71.83 967.86,71.48 969.23,71.13 970.59,70.79 971.97,70.45 973.35,70.12 974.73,69.79 976.12,69.47 977.51,69.15 978.91,68.85 980.32,68.54 981.74,68.25 983.16,67.96 984.59,67.68 986.03,67.41 987.48,67.15 988.93,66.89 990.40,66.65 991.87,66.41 993.36,66.19 994.85,65.97 996.36,65.77 997.87,65.57 999.39,65.38 1000.91,65.19 1002.45,65.02 1003.98,64.84 1005.52,64.80 1007.07,64.80 1008.61,64.80 1010.16,64.80 1011.71,64.80 1014.20,64.80" fill="none" stroke="#000000" stroke-width="3.1" stroke-dasharray="3.1 2.6"/></g>
<text x="732.30" y="308.80" text-anchor="middle" class="tk">0</text>
<text x="728.40" y="298.80" text-anchor="end" class="tk">0</text>
<text x="788.68" y="308.80" text-anchor="middle" class="tk">0.2</text>
<text x="728.40" y="252.92" text-anchor="end" class="tk">0.2</text>
<text x="845.06" y="308.80" text-anchor="middle" class="tk">0.4</text>
<text x="728.40" y="207.04" text-anchor="end" class="tk">0.4</text>
<text x="901.44" y="308.80" text-anchor="middle" class="tk">0.6</text>
<text x="728.40" y="161.16" text-anchor="end" class="tk">0.6</text>
<text x="957.82" y="308.80" text-anchor="middle" class="tk">0.8</text>
<text x="728.40" y="115.28" text-anchor="end" class="tk">0.8</text>
<path d="M1013.90,298.90 L1015.55,298.90 L1015.55,308.80 L1013.90,308.80 L1013.90,301.80 C1013.20,302.40 1012.40,302.80 1011.60,303.00 L1011.60,301.60 C1012.70,301.20 1013.50,300.20 1014.00,298.90 Z" fill="#000"/>
<path d="M724.95,59.50 L726.60,59.50 L726.60,69.40 L724.95,69.40 L724.95,62.40 C724.25,63.00 723.45,63.40 722.65,63.60 L722.65,62.20 C723.75,61.80 724.55,60.80 725.05,59.50 Z" fill="#000"/>
<text x="862.35" y="326.00" font-size="16.3">P<tspan font-size="11.5" dy="7">fa</tspan></text>
<text transform="translate(696.00,192.70) rotate(-90)" font-size="16.3">P<tspan font-size="11.5" dy="7">det</tspan></text>
<text id="titlec" x="735.80" y="53.40" font-size="15.4" textLength="273.70" lengthAdjust="spacingAndGlyphs" xml:space="preserve">Message <tspan class="h1">1</tspan>, <tspan class="h1">1</tspan>024 samples, INR = -<tspan class="h1">1</tspan>6dB</text>
<path d="M806.15,42.51 L807.69,42.51 L807.69,53.40 L806.15,53.40 L806.15,45.70 C805.38,46.36 804.50,46.80 803.62,47.02 L803.62,45.48 C804.83,45.04 805.71,43.94 806.25,42.51 Z" fill="#000"/>
<path d="M823.30,42.51 L824.84,42.51 L824.84,53.40 L823.30,53.40 L823.30,45.70 C822.53,46.36 821.65,46.80 820.77,47.02 L820.77,45.48 C821.98,45.04 822.86,43.94 823.40,42.51 Z" fill="#000"/>
<path d="M977.04,42.51 L978.58,42.51 L978.58,53.40 L977.04,53.40 L977.04,45.70 C976.27,46.36 975.39,46.80 974.51,47.02 L974.51,45.48 C975.72,45.04 976.60,43.94 977.14,42.51 Z" fill="#000"/>
<text x="868.10" y="20.90" font-family="Liberation Serif, serif" font-weight="bold" font-size="20.5">(c)</text>
<rect x="916.8" y="117.4" width="97.40" height="176.80" fill="#fff" stroke="#4a4a4a" stroke-width="1.1"/>
<line x1="922" y1="126.60" x2="950" y2="126.60" stroke="#0000ff" stroke-width="1.5"/>
<text x="953.8" y="131.80" class="lg">AD test</text>
<line x1="922" y1="144.13" x2="950" y2="144.13" stroke="#008000" stroke-width="1.5"/>
<text x="953.8" y="149.33" class="lg">SW test</text>
<line x1="922" y1="161.66" x2="950" y2="161.66" stroke="#ff0000" stroke-width="1.5"/>
<text x="953.8" y="166.86" class="lg">L test</text>
<line x1="922" y1="179.19" x2="950" y2="179.19" stroke="#bf00bf" stroke-width="1.5"/>
<text x="953.8" y="184.39" class="lg">CM test</text>
<line x1="922" y1="196.72" x2="950" y2="196.72" stroke="#000000" stroke-width="1.5"/>
<text x="953.8" y="201.92" class="lg">CHI2 test</text>
<line x1="922" y1="214.25" x2="950" y2="214.25" stroke="#0000ff" stroke-width="3" stroke-dasharray="3 2.8"/>
<text x="953.8" y="219.45" class="lg">K test</text>
<line x1="922" y1="231.78" x2="950" y2="231.78" stroke="#008000" stroke-width="3" stroke-dasharray="3 2.8"/>
<text x="953.8" y="236.98" class="lg">K2 test</text>
<line x1="922" y1="249.31" x2="950" y2="249.31" stroke="#ff0000" stroke-width="3" stroke-dasharray="3 2.8"/>
<text x="953.8" y="254.51" class="lg">JB test</text>
<line x1="922" y1="266.84" x2="950" y2="266.84" stroke="#bf00bf" stroke-width="3" stroke-dasharray="3 2.8"/>
<text x="953.8" y="272.04" class="lg">S test</text>
<line x1="922" y1="284.37" x2="950" y2="284.37" stroke="#000000" stroke-width="3" stroke-dasharray="3 2.8"/>
<text x="953.8" y="289.57" class="lg">LM test</text>
</svg>
</body></html>
